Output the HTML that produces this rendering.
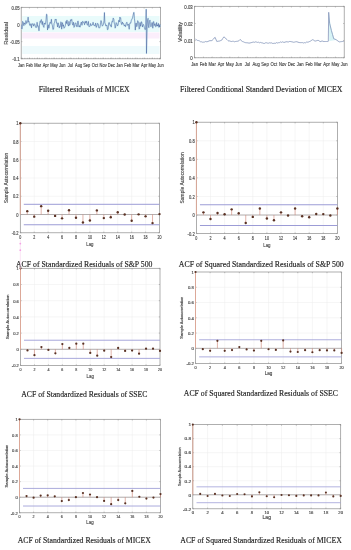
<!DOCTYPE html>
<html><head><meta charset="utf-8"><style>
html,body{margin:0;padding:0;background:#fff;width:351px;height:550px;overflow:hidden}
svg{display:block}
</style></head><body>
<svg width="351" height="550" viewBox="0 0 351 550" style="filter:blur(0.32px)">
<rect width="351" height="550" fill="#fff"/>
<rect x="22.2" y="16" width="137.3" height="16" fill="#e9fbfb"/>
<rect x="22.2" y="32.5" width="137.3" height="6" fill="#fbeefb"/>
<rect x="22.2" y="46" width="137.3" height="8" fill="#eefafc"/>
<rect x="21.20" y="7.30" width="139.30" height="51.50" fill="none" stroke="#8c8c8c" stroke-width="0.7"/>
<line x1="21.20" y1="58.80" x2="21.20" y2="57.60" stroke="#8c8c8c" stroke-width="0.5" />
<line x1="21.20" y1="7.30" x2="21.20" y2="8.50" stroke="#8c8c8c" stroke-width="0.5" />
<text transform="translate(21.20,66.60) scale(0.78,1)" font-size="5.10" text-anchor="middle" fill="#4a4a4a" stroke="#4a4a4a" stroke-width="0.16" font-family='"Liberation Sans", sans-serif' >Jan</text>
<line x1="29.39" y1="58.80" x2="29.39" y2="57.60" stroke="#8c8c8c" stroke-width="0.5" />
<line x1="29.39" y1="7.30" x2="29.39" y2="8.50" stroke="#8c8c8c" stroke-width="0.5" />
<text transform="translate(29.39,66.60) scale(0.78,1)" font-size="5.10" text-anchor="middle" fill="#4a4a4a" stroke="#4a4a4a" stroke-width="0.16" font-family='"Liberation Sans", sans-serif' >Feb</text>
<line x1="37.59" y1="58.80" x2="37.59" y2="57.60" stroke="#8c8c8c" stroke-width="0.5" />
<line x1="37.59" y1="7.30" x2="37.59" y2="8.50" stroke="#8c8c8c" stroke-width="0.5" />
<text transform="translate(37.59,66.60) scale(0.78,1)" font-size="5.10" text-anchor="middle" fill="#4a4a4a" stroke="#4a4a4a" stroke-width="0.16" font-family='"Liberation Sans", sans-serif' >Mar</text>
<line x1="45.78" y1="58.80" x2="45.78" y2="57.60" stroke="#8c8c8c" stroke-width="0.5" />
<line x1="45.78" y1="7.30" x2="45.78" y2="8.50" stroke="#8c8c8c" stroke-width="0.5" />
<text transform="translate(45.78,66.60) scale(0.78,1)" font-size="5.10" text-anchor="middle" fill="#4a4a4a" stroke="#4a4a4a" stroke-width="0.16" font-family='"Liberation Sans", sans-serif' >Apr</text>
<line x1="53.98" y1="58.80" x2="53.98" y2="57.60" stroke="#8c8c8c" stroke-width="0.5" />
<line x1="53.98" y1="7.30" x2="53.98" y2="8.50" stroke="#8c8c8c" stroke-width="0.5" />
<text transform="translate(53.98,66.60) scale(0.78,1)" font-size="5.10" text-anchor="middle" fill="#4a4a4a" stroke="#4a4a4a" stroke-width="0.16" font-family='"Liberation Sans", sans-serif' >May</text>
<line x1="62.17" y1="58.80" x2="62.17" y2="57.60" stroke="#8c8c8c" stroke-width="0.5" />
<line x1="62.17" y1="7.30" x2="62.17" y2="8.50" stroke="#8c8c8c" stroke-width="0.5" />
<text transform="translate(62.17,66.60) scale(0.78,1)" font-size="5.10" text-anchor="middle" fill="#4a4a4a" stroke="#4a4a4a" stroke-width="0.16" font-family='"Liberation Sans", sans-serif' >Jun</text>
<line x1="70.36" y1="58.80" x2="70.36" y2="57.60" stroke="#8c8c8c" stroke-width="0.5" />
<line x1="70.36" y1="7.30" x2="70.36" y2="8.50" stroke="#8c8c8c" stroke-width="0.5" />
<text transform="translate(70.36,66.60) scale(0.78,1)" font-size="5.10" text-anchor="middle" fill="#4a4a4a" stroke="#4a4a4a" stroke-width="0.16" font-family='"Liberation Sans", sans-serif' >Jul</text>
<line x1="78.56" y1="58.80" x2="78.56" y2="57.60" stroke="#8c8c8c" stroke-width="0.5" />
<line x1="78.56" y1="7.30" x2="78.56" y2="8.50" stroke="#8c8c8c" stroke-width="0.5" />
<text transform="translate(78.56,66.60) scale(0.78,1)" font-size="5.10" text-anchor="middle" fill="#4a4a4a" stroke="#4a4a4a" stroke-width="0.16" font-family='"Liberation Sans", sans-serif' >Aug</text>
<line x1="86.75" y1="58.80" x2="86.75" y2="57.60" stroke="#8c8c8c" stroke-width="0.5" />
<line x1="86.75" y1="7.30" x2="86.75" y2="8.50" stroke="#8c8c8c" stroke-width="0.5" />
<text transform="translate(86.75,66.60) scale(0.78,1)" font-size="5.10" text-anchor="middle" fill="#4a4a4a" stroke="#4a4a4a" stroke-width="0.16" font-family='"Liberation Sans", sans-serif' >Sep</text>
<line x1="94.95" y1="58.80" x2="94.95" y2="57.60" stroke="#8c8c8c" stroke-width="0.5" />
<line x1="94.95" y1="7.30" x2="94.95" y2="8.50" stroke="#8c8c8c" stroke-width="0.5" />
<text transform="translate(94.95,66.60) scale(0.78,1)" font-size="5.10" text-anchor="middle" fill="#4a4a4a" stroke="#4a4a4a" stroke-width="0.16" font-family='"Liberation Sans", sans-serif' >Oct</text>
<line x1="103.14" y1="58.80" x2="103.14" y2="57.60" stroke="#8c8c8c" stroke-width="0.5" />
<line x1="103.14" y1="7.30" x2="103.14" y2="8.50" stroke="#8c8c8c" stroke-width="0.5" />
<text transform="translate(103.14,66.60) scale(0.78,1)" font-size="5.10" text-anchor="middle" fill="#4a4a4a" stroke="#4a4a4a" stroke-width="0.16" font-family='"Liberation Sans", sans-serif' >Nov</text>
<line x1="111.34" y1="58.80" x2="111.34" y2="57.60" stroke="#8c8c8c" stroke-width="0.5" />
<line x1="111.34" y1="7.30" x2="111.34" y2="8.50" stroke="#8c8c8c" stroke-width="0.5" />
<text transform="translate(111.34,66.60) scale(0.78,1)" font-size="5.10" text-anchor="middle" fill="#4a4a4a" stroke="#4a4a4a" stroke-width="0.16" font-family='"Liberation Sans", sans-serif' >Dec</text>
<line x1="119.53" y1="58.80" x2="119.53" y2="57.60" stroke="#8c8c8c" stroke-width="0.5" />
<line x1="119.53" y1="7.30" x2="119.53" y2="8.50" stroke="#8c8c8c" stroke-width="0.5" />
<text transform="translate(119.53,66.60) scale(0.78,1)" font-size="5.10" text-anchor="middle" fill="#4a4a4a" stroke="#4a4a4a" stroke-width="0.16" font-family='"Liberation Sans", sans-serif' >Jan</text>
<line x1="127.72" y1="58.80" x2="127.72" y2="57.60" stroke="#8c8c8c" stroke-width="0.5" />
<line x1="127.72" y1="7.30" x2="127.72" y2="8.50" stroke="#8c8c8c" stroke-width="0.5" />
<text transform="translate(127.72,66.60) scale(0.78,1)" font-size="5.10" text-anchor="middle" fill="#4a4a4a" stroke="#4a4a4a" stroke-width="0.16" font-family='"Liberation Sans", sans-serif' >Feb</text>
<line x1="135.92" y1="58.80" x2="135.92" y2="57.60" stroke="#8c8c8c" stroke-width="0.5" />
<line x1="135.92" y1="7.30" x2="135.92" y2="8.50" stroke="#8c8c8c" stroke-width="0.5" />
<text transform="translate(135.92,66.60) scale(0.78,1)" font-size="5.10" text-anchor="middle" fill="#4a4a4a" stroke="#4a4a4a" stroke-width="0.16" font-family='"Liberation Sans", sans-serif' >Mar</text>
<line x1="144.11" y1="58.80" x2="144.11" y2="57.60" stroke="#8c8c8c" stroke-width="0.5" />
<line x1="144.11" y1="7.30" x2="144.11" y2="8.50" stroke="#8c8c8c" stroke-width="0.5" />
<text transform="translate(144.11,66.60) scale(0.78,1)" font-size="5.10" text-anchor="middle" fill="#4a4a4a" stroke="#4a4a4a" stroke-width="0.16" font-family='"Liberation Sans", sans-serif' >Apr</text>
<line x1="152.31" y1="58.80" x2="152.31" y2="57.60" stroke="#8c8c8c" stroke-width="0.5" />
<line x1="152.31" y1="7.30" x2="152.31" y2="8.50" stroke="#8c8c8c" stroke-width="0.5" />
<text transform="translate(152.31,66.60) scale(0.78,1)" font-size="5.10" text-anchor="middle" fill="#4a4a4a" stroke="#4a4a4a" stroke-width="0.16" font-family='"Liberation Sans", sans-serif' >May</text>
<line x1="160.50" y1="58.80" x2="160.50" y2="57.60" stroke="#8c8c8c" stroke-width="0.5" />
<line x1="160.50" y1="7.30" x2="160.50" y2="8.50" stroke="#8c8c8c" stroke-width="0.5" />
<text transform="translate(160.50,66.60) scale(0.78,1)" font-size="5.10" text-anchor="middle" fill="#4a4a4a" stroke="#4a4a4a" stroke-width="0.16" font-family='"Liberation Sans", sans-serif' >Jun</text>
<line x1="21.20" y1="7.30" x2="22.40" y2="7.30" stroke="#8c8c8c" stroke-width="0.5" />
<line x1="160.50" y1="7.30" x2="159.30" y2="7.30" stroke="#8c8c8c" stroke-width="0.5" />
<text transform="translate(19.60,9.60) scale(0.88,1)" font-size="4.80" text-anchor="end" fill="#4a4a4a" stroke="#4a4a4a" stroke-width="0.16" font-family='"Liberation Sans", sans-serif' >0.05</text>
<line x1="21.20" y1="24.47" x2="22.40" y2="24.47" stroke="#8c8c8c" stroke-width="0.5" />
<line x1="160.50" y1="24.47" x2="159.30" y2="24.47" stroke="#8c8c8c" stroke-width="0.5" />
<text transform="translate(19.60,26.77) scale(0.88,1)" font-size="4.80" text-anchor="end" fill="#4a4a4a" stroke="#4a4a4a" stroke-width="0.16" font-family='"Liberation Sans", sans-serif' >0</text>
<line x1="21.20" y1="41.63" x2="22.40" y2="41.63" stroke="#8c8c8c" stroke-width="0.5" />
<line x1="160.50" y1="41.63" x2="159.30" y2="41.63" stroke="#8c8c8c" stroke-width="0.5" />
<text transform="translate(19.60,43.93) scale(0.88,1)" font-size="4.80" text-anchor="end" fill="#4a4a4a" stroke="#4a4a4a" stroke-width="0.16" font-family='"Liberation Sans", sans-serif' >-0.05</text>
<line x1="21.20" y1="58.80" x2="22.40" y2="58.80" stroke="#8c8c8c" stroke-width="0.5" />
<line x1="160.50" y1="58.80" x2="159.30" y2="58.80" stroke="#8c8c8c" stroke-width="0.5" />
<text transform="translate(19.60,61.10) scale(0.88,1)" font-size="4.80" text-anchor="end" fill="#4a4a4a" stroke="#4a4a4a" stroke-width="0.16" font-family='"Liberation Sans", sans-serif' >-0.1</text>
<text transform="translate(7.50,33.40) rotate(-90) scale(1,0.92)" font-size="5.90" text-anchor="middle" fill="#4a4a4a" stroke="#4a4a4a" stroke-width="0.16" font-family='"Liberation Sans", sans-serif' >Residual</text>
<line x1="22.40" y1="58.80" x2="22.40" y2="57.80" stroke="#7a7a7a" stroke-width="0.45" />
<line x1="24.85" y1="58.80" x2="24.85" y2="57.80" stroke="#7a7a7a" stroke-width="0.45" />
<line x1="27.30" y1="58.80" x2="27.30" y2="57.80" stroke="#7a7a7a" stroke-width="0.45" />
<line x1="29.75" y1="58.80" x2="29.75" y2="57.80" stroke="#7a7a7a" stroke-width="0.45" />
<line x1="32.20" y1="58.80" x2="32.20" y2="57.80" stroke="#7a7a7a" stroke-width="0.45" />
<line x1="34.65" y1="58.80" x2="34.65" y2="57.80" stroke="#7a7a7a" stroke-width="0.45" />
<line x1="37.10" y1="58.80" x2="37.10" y2="57.80" stroke="#7a7a7a" stroke-width="0.45" />
<line x1="39.55" y1="58.80" x2="39.55" y2="57.80" stroke="#7a7a7a" stroke-width="0.45" />
<line x1="42.00" y1="58.80" x2="42.00" y2="57.80" stroke="#7a7a7a" stroke-width="0.45" />
<line x1="44.45" y1="58.80" x2="44.45" y2="57.80" stroke="#7a7a7a" stroke-width="0.45" />
<line x1="46.90" y1="58.80" x2="46.90" y2="57.80" stroke="#7a7a7a" stroke-width="0.45" />
<line x1="49.35" y1="58.80" x2="49.35" y2="57.80" stroke="#7a7a7a" stroke-width="0.45" />
<line x1="51.80" y1="58.80" x2="51.80" y2="57.80" stroke="#7a7a7a" stroke-width="0.45" />
<line x1="54.25" y1="58.80" x2="54.25" y2="57.80" stroke="#7a7a7a" stroke-width="0.45" />
<line x1="56.70" y1="58.80" x2="56.70" y2="57.80" stroke="#7a7a7a" stroke-width="0.45" />
<line x1="59.15" y1="58.80" x2="59.15" y2="57.80" stroke="#7a7a7a" stroke-width="0.45" />
<line x1="61.60" y1="58.80" x2="61.60" y2="57.80" stroke="#7a7a7a" stroke-width="0.45" />
<line x1="64.05" y1="58.80" x2="64.05" y2="57.80" stroke="#7a7a7a" stroke-width="0.45" />
<line x1="66.50" y1="58.80" x2="66.50" y2="57.80" stroke="#7a7a7a" stroke-width="0.45" />
<line x1="68.95" y1="58.80" x2="68.95" y2="57.80" stroke="#7a7a7a" stroke-width="0.45" />
<line x1="71.40" y1="58.80" x2="71.40" y2="57.80" stroke="#7a7a7a" stroke-width="0.45" />
<line x1="73.85" y1="58.80" x2="73.85" y2="57.80" stroke="#7a7a7a" stroke-width="0.45" />
<line x1="76.30" y1="58.80" x2="76.30" y2="57.80" stroke="#7a7a7a" stroke-width="0.45" />
<line x1="78.75" y1="58.80" x2="78.75" y2="57.80" stroke="#7a7a7a" stroke-width="0.45" />
<line x1="81.20" y1="58.80" x2="81.20" y2="57.80" stroke="#7a7a7a" stroke-width="0.45" />
<line x1="83.65" y1="58.80" x2="83.65" y2="57.80" stroke="#7a7a7a" stroke-width="0.45" />
<line x1="86.10" y1="58.80" x2="86.10" y2="57.80" stroke="#7a7a7a" stroke-width="0.45" />
<line x1="88.55" y1="58.80" x2="88.55" y2="57.80" stroke="#7a7a7a" stroke-width="0.45" />
<line x1="91.00" y1="58.80" x2="91.00" y2="57.80" stroke="#7a7a7a" stroke-width="0.45" />
<line x1="93.45" y1="58.80" x2="93.45" y2="57.80" stroke="#7a7a7a" stroke-width="0.45" />
<line x1="95.90" y1="58.80" x2="95.90" y2="57.80" stroke="#7a7a7a" stroke-width="0.45" />
<line x1="98.35" y1="58.80" x2="98.35" y2="57.80" stroke="#7a7a7a" stroke-width="0.45" />
<line x1="100.80" y1="58.80" x2="100.80" y2="57.80" stroke="#7a7a7a" stroke-width="0.45" />
<line x1="103.25" y1="58.80" x2="103.25" y2="57.80" stroke="#7a7a7a" stroke-width="0.45" />
<line x1="105.70" y1="58.80" x2="105.70" y2="57.80" stroke="#7a7a7a" stroke-width="0.45" />
<line x1="108.15" y1="58.80" x2="108.15" y2="57.80" stroke="#7a7a7a" stroke-width="0.45" />
<line x1="110.60" y1="58.80" x2="110.60" y2="57.80" stroke="#7a7a7a" stroke-width="0.45" />
<line x1="113.05" y1="58.80" x2="113.05" y2="57.80" stroke="#7a7a7a" stroke-width="0.45" />
<line x1="115.50" y1="58.80" x2="115.50" y2="57.80" stroke="#7a7a7a" stroke-width="0.45" />
<line x1="117.95" y1="58.80" x2="117.95" y2="57.80" stroke="#7a7a7a" stroke-width="0.45" />
<line x1="120.40" y1="58.80" x2="120.40" y2="57.80" stroke="#7a7a7a" stroke-width="0.45" />
<line x1="122.85" y1="58.80" x2="122.85" y2="57.80" stroke="#7a7a7a" stroke-width="0.45" />
<line x1="125.30" y1="58.80" x2="125.30" y2="57.80" stroke="#7a7a7a" stroke-width="0.45" />
<line x1="127.75" y1="58.80" x2="127.75" y2="57.80" stroke="#7a7a7a" stroke-width="0.45" />
<line x1="130.20" y1="58.80" x2="130.20" y2="57.80" stroke="#7a7a7a" stroke-width="0.45" />
<line x1="132.65" y1="58.80" x2="132.65" y2="57.80" stroke="#7a7a7a" stroke-width="0.45" />
<line x1="135.10" y1="58.80" x2="135.10" y2="57.80" stroke="#7a7a7a" stroke-width="0.45" />
<line x1="137.55" y1="58.80" x2="137.55" y2="57.80" stroke="#7a7a7a" stroke-width="0.45" />
<line x1="140.00" y1="58.80" x2="140.00" y2="57.80" stroke="#7a7a7a" stroke-width="0.45" />
<line x1="142.45" y1="58.80" x2="142.45" y2="57.80" stroke="#7a7a7a" stroke-width="0.45" />
<line x1="144.90" y1="58.80" x2="144.90" y2="57.80" stroke="#7a7a7a" stroke-width="0.45" />
<line x1="147.35" y1="58.80" x2="147.35" y2="57.80" stroke="#7a7a7a" stroke-width="0.45" />
<line x1="149.80" y1="58.80" x2="149.80" y2="57.80" stroke="#7a7a7a" stroke-width="0.45" />
<line x1="152.25" y1="58.80" x2="152.25" y2="57.80" stroke="#7a7a7a" stroke-width="0.45" />
<line x1="154.70" y1="58.80" x2="154.70" y2="57.80" stroke="#7a7a7a" stroke-width="0.45" />
<line x1="157.15" y1="58.80" x2="157.15" y2="57.80" stroke="#7a7a7a" stroke-width="0.45" />
<line x1="159.60" y1="58.80" x2="159.60" y2="57.80" stroke="#7a7a7a" stroke-width="0.45" />
<path d="M21.71,24.82 L21.88,29.09 L22.22,26.75 L22.56,21.40 L23.21,22.19 L23.85,25.68 L24.27,22.89 L24.70,23.97 L25.34,24.47 L25.98,20.55 L26.62,23.47 L27.26,22.26 L27.69,21.07 L28.12,17.13 L28.55,22.12 L28.97,21.40 L29.62,25.18 L30.26,25.68 L30.90,23.65 L31.54,27.81 L31.97,23.90 L32.39,23.97 L33.03,23.74 L33.68,26.10 L34.32,23.68 L34.96,24.82 L35.60,27.32 L36.24,26.96 L36.67,27.44 L37.09,22.26 L37.52,26.33 L37.95,25.68 L38.46,26.29 L38.97,30.80 L39.53,24.78 L40.09,21.40 L40.51,22.37 L40.94,20.12 L41.37,19.56 L41.79,23.11 L42.22,24.63 L42.65,21.40 L43.29,26.19 L43.93,27.38 L44.36,23.08 L44.79,23.97 L45.43,24.18 L46.07,19.69 L46.50,14.18 L46.92,14.56 L47.52,29.95 L48.08,25.61 L48.63,24.82 L48.85,28.24 L49.50,23.81 L50.14,22.26 L50.78,23.47 L51.42,19.26 L51.85,24.22 L52.27,24.82 L52.91,29.49 L53.56,29.09 L54.11,23.33 L54.67,22.26 L55.18,19.36 L55.69,20.12 L56.12,19.23 L56.55,23.11 L57.06,22.92 L57.57,26.96 L58.13,22.80 L58.68,24.82 L59.24,27.99 L59.79,26.10 L60.31,26.57 L60.82,21.83 L61.25,22.28 L61.68,29.09 L62.10,24.12 L62.53,22.68 L62.96,26.29 L63.38,24.82 L64.03,28.23 L64.67,27.38 L65.31,25.83 L65.95,21.40 L66.46,23.50 L66.97,20.12 L67.53,24.17 L68.09,24.82 L68.51,26.05 L68.94,21.40 L69.50,25.21 L70.05,24.82 L70.56,19.72 L71.08,20.55 L71.72,19.33 L72.36,23.97 L72.91,25.14 L73.47,22.26 L73.98,27.36 L74.50,26.53 L75.01,23.32 L75.52,23.11 L76.00,23.11 L76.32,26.06 L76.63,25.68 L76.85,26.96 L77.28,26.35 L77.71,21.40 L78.14,20.96 L78.56,23.97 L78.99,26.86 L79.42,25.68 L80.06,27.15 L80.70,23.97 L81.34,22.03 L81.98,25.25 L82.62,21.32 L83.26,22.26 L83.91,22.23 L84.55,24.82 L85.19,21.21 L85.83,23.11 L86.47,21.17 L87.11,24.82 L87.75,25.11 L88.39,21.40 L88.82,26.43 L89.25,26.53 L89.89,26.37 L90.53,23.54 L91.17,25.70 L91.81,24.82 L92.45,24.84 L93.09,22.26 L93.74,25.25 L94.38,25.25 L95.02,26.11 L95.66,23.11 L96.30,27.34 L96.94,25.68 L97.58,23.32 L98.22,23.97 L98.74,27.78 L99.25,27.81 L99.80,27.76 L100.36,24.82 L101.00,20.57 L101.64,22.68 L102.28,26.13 L102.92,25.25 L103.48,24.30 L104.03,20.55 L104.43,12.56 L104.85,22.82 L105.28,23.68 L105.92,26.05 L106.56,24.96 L106.99,25.78 L107.42,29.66 L108.06,29.34 L108.70,22.82 L109.34,22.61 L109.98,25.38 L110.62,24.99 L111.26,27.09 L111.91,21.37 L112.55,21.97 L113.19,18.09 L113.83,19.40 L114.26,23.47 L114.68,23.68 L115.11,28.13 L115.54,27.09 L116.18,22.63 L116.82,23.68 L117.46,25.96 L118.10,24.96 L118.74,20.29 L119.38,21.97 L119.81,17.23 L120.24,18.12 L120.67,17.79 L121.09,22.82 L121.74,24.63 L122.38,21.97 L123.02,24.08 L123.66,23.68 L124.30,26.08 L124.94,24.96 L125.58,26.69 L126.22,23.25 L126.86,22.22 L127.50,25.38 L128.36,24.13 L129.21,29.23 L129.64,24.10 L130.07,22.82 L130.71,23.19 L131.35,20.26 L132.53,18.02 L133.70,12.57 L134.03,12.41 L134.37,18.25 L134.84,22.00 L135.31,30.07 L135.78,23.72 L136.26,22.98 L136.73,26.68 L137.20,25.34 L137.68,20.68 L138.15,21.56 L138.62,23.18 L139.10,29.12 L139.57,28.59 L140.04,22.50 L140.51,26.25 L140.99,24.39 L141.46,21.69 L141.93,22.98 L142.41,27.02 L142.88,24.87 L143.59,24.51 L144.30,27.23 L145.01,29.68 L145.72,29.12 L146.19,9.26 L146.47,53.44 L147.14,26.76 L147.61,19.69 L148.08,18.25 L148.46,25.83 L148.84,27.71 L149.41,21.41 L149.98,20.14 L150.45,25.75 L150.92,26.76 L151.39,25.86 L151.87,22.50 L152.34,22.84 L152.81,28.18 L153.29,21.80 L153.76,21.56 L154.23,25.68 L154.71,23.92 L155.18,23.72 L155.65,26.76 L156.12,26.42 L156.60,22.50 L157.07,26.06 L157.54,24.87 L158.02,26.20 L158.49,23.45 L158.96,27.41 L159.44,25.34 L159.81,26.98 L160.19,24.39" fill="none" stroke="#c8ecf4" stroke-width="1.6" stroke-linejoin="round" opacity="0.6"/>
<path d="M21.71,24.82 L21.88,29.09 L22.22,26.75 L22.56,21.40 L23.21,22.19 L23.85,25.68 L24.27,22.89 L24.70,23.97 L25.34,24.47 L25.98,20.55 L26.62,23.47 L27.26,22.26 L27.69,21.07 L28.12,17.13 L28.55,22.12 L28.97,21.40 L29.62,25.18 L30.26,25.68 L30.90,23.65 L31.54,27.81 L31.97,23.90 L32.39,23.97 L33.03,23.74 L33.68,26.10 L34.32,23.68 L34.96,24.82 L35.60,27.32 L36.24,26.96 L36.67,27.44 L37.09,22.26 L37.52,26.33 L37.95,25.68 L38.46,26.29 L38.97,30.80 L39.53,24.78 L40.09,21.40 L40.51,22.37 L40.94,20.12 L41.37,19.56 L41.79,23.11 L42.22,24.63 L42.65,21.40 L43.29,26.19 L43.93,27.38 L44.36,23.08 L44.79,23.97 L45.43,24.18 L46.07,19.69 L46.50,14.18 L46.92,14.56 L47.52,29.95 L48.08,25.61 L48.63,24.82 L48.85,28.24 L49.50,23.81 L50.14,22.26 L50.78,23.47 L51.42,19.26 L51.85,24.22 L52.27,24.82 L52.91,29.49 L53.56,29.09 L54.11,23.33 L54.67,22.26 L55.18,19.36 L55.69,20.12 L56.12,19.23 L56.55,23.11 L57.06,22.92 L57.57,26.96 L58.13,22.80 L58.68,24.82 L59.24,27.99 L59.79,26.10 L60.31,26.57 L60.82,21.83 L61.25,22.28 L61.68,29.09 L62.10,24.12 L62.53,22.68 L62.96,26.29 L63.38,24.82 L64.03,28.23 L64.67,27.38 L65.31,25.83 L65.95,21.40 L66.46,23.50 L66.97,20.12 L67.53,24.17 L68.09,24.82 L68.51,26.05 L68.94,21.40 L69.50,25.21 L70.05,24.82 L70.56,19.72 L71.08,20.55 L71.72,19.33 L72.36,23.97 L72.91,25.14 L73.47,22.26 L73.98,27.36 L74.50,26.53 L75.01,23.32 L75.52,23.11 L76.00,23.11 L76.32,26.06 L76.63,25.68 L76.85,26.96 L77.28,26.35 L77.71,21.40 L78.14,20.96 L78.56,23.97 L78.99,26.86 L79.42,25.68 L80.06,27.15 L80.70,23.97 L81.34,22.03 L81.98,25.25 L82.62,21.32 L83.26,22.26 L83.91,22.23 L84.55,24.82 L85.19,21.21 L85.83,23.11 L86.47,21.17 L87.11,24.82 L87.75,25.11 L88.39,21.40 L88.82,26.43 L89.25,26.53 L89.89,26.37 L90.53,23.54 L91.17,25.70 L91.81,24.82 L92.45,24.84 L93.09,22.26 L93.74,25.25 L94.38,25.25 L95.02,26.11 L95.66,23.11 L96.30,27.34 L96.94,25.68 L97.58,23.32 L98.22,23.97 L98.74,27.78 L99.25,27.81 L99.80,27.76 L100.36,24.82 L101.00,20.57 L101.64,22.68 L102.28,26.13 L102.92,25.25 L103.48,24.30 L104.03,20.55 L104.43,12.56 L104.85,22.82 L105.28,23.68 L105.92,26.05 L106.56,24.96 L106.99,25.78 L107.42,29.66 L108.06,29.34 L108.70,22.82 L109.34,22.61 L109.98,25.38 L110.62,24.99 L111.26,27.09 L111.91,21.37 L112.55,21.97 L113.19,18.09 L113.83,19.40 L114.26,23.47 L114.68,23.68 L115.11,28.13 L115.54,27.09 L116.18,22.63 L116.82,23.68 L117.46,25.96 L118.10,24.96 L118.74,20.29 L119.38,21.97 L119.81,17.23 L120.24,18.12 L120.67,17.79 L121.09,22.82 L121.74,24.63 L122.38,21.97 L123.02,24.08 L123.66,23.68 L124.30,26.08 L124.94,24.96 L125.58,26.69 L126.22,23.25 L126.86,22.22 L127.50,25.38 L128.36,24.13 L129.21,29.23 L129.64,24.10 L130.07,22.82 L130.71,23.19 L131.35,20.26 L132.53,18.02 L133.70,12.57 L134.03,12.41 L134.37,18.25 L134.84,22.00 L135.31,30.07 L135.78,23.72 L136.26,22.98 L136.73,26.68 L137.20,25.34 L137.68,20.68 L138.15,21.56 L138.62,23.18 L139.10,29.12 L139.57,28.59 L140.04,22.50 L140.51,26.25 L140.99,24.39 L141.46,21.69 L141.93,22.98 L142.41,27.02 L142.88,24.87 L143.59,24.51 L144.30,27.23 L145.01,29.68 L145.72,29.12 L146.19,9.26 L146.47,53.44 L147.14,26.76 L147.61,19.69 L148.08,18.25 L148.46,25.83 L148.84,27.71 L149.41,21.41 L149.98,20.14 L150.45,25.75 L150.92,26.76 L151.39,25.86 L151.87,22.50 L152.34,22.84 L152.81,28.18 L153.29,21.80 L153.76,21.56 L154.23,25.68 L154.71,23.92 L155.18,23.72 L155.65,26.76 L156.12,26.42 L156.60,22.50 L157.07,26.06 L157.54,24.87 L158.02,26.20 L158.49,23.45 L158.96,27.41 L159.44,25.34 L159.81,26.98 L160.19,24.39" fill="none" stroke="#3c5699" stroke-width="0.5" stroke-linejoin="miter"/>
<text x="38.70" y="92.30" font-size="7.2" fill="#1e1e1e" stroke="#1e1e1e" stroke-width="0.14" font-family='"Liberation Serif", serif' textLength="91.00" lengthAdjust="spacingAndGlyphs">Filtered Residuals of MICEX</text>
<rect x="194.60" y="6.30" width="149.60" height="51.50" fill="none" stroke="#8c8c8c" stroke-width="0.7"/>
<line x1="194.60" y1="57.80" x2="194.60" y2="56.60" stroke="#8c8c8c" stroke-width="0.5" />
<line x1="194.60" y1="6.30" x2="194.60" y2="7.50" stroke="#8c8c8c" stroke-width="0.5" />
<text transform="translate(194.60,65.60) scale(0.82,1)" font-size="5.10" text-anchor="middle" fill="#4a4a4a" stroke="#4a4a4a" stroke-width="0.16" font-family='"Liberation Sans", sans-serif' >Jan</text>
<line x1="203.40" y1="57.80" x2="203.40" y2="56.60" stroke="#8c8c8c" stroke-width="0.5" />
<line x1="203.40" y1="6.30" x2="203.40" y2="7.50" stroke="#8c8c8c" stroke-width="0.5" />
<text transform="translate(203.40,65.60) scale(0.82,1)" font-size="5.10" text-anchor="middle" fill="#4a4a4a" stroke="#4a4a4a" stroke-width="0.16" font-family='"Liberation Sans", sans-serif' >Feb</text>
<line x1="212.20" y1="57.80" x2="212.20" y2="56.60" stroke="#8c8c8c" stroke-width="0.5" />
<line x1="212.20" y1="6.30" x2="212.20" y2="7.50" stroke="#8c8c8c" stroke-width="0.5" />
<text transform="translate(212.20,65.60) scale(0.82,1)" font-size="5.10" text-anchor="middle" fill="#4a4a4a" stroke="#4a4a4a" stroke-width="0.16" font-family='"Liberation Sans", sans-serif' >Mar</text>
<line x1="221.00" y1="57.80" x2="221.00" y2="56.60" stroke="#8c8c8c" stroke-width="0.5" />
<line x1="221.00" y1="6.30" x2="221.00" y2="7.50" stroke="#8c8c8c" stroke-width="0.5" />
<text transform="translate(221.00,65.60) scale(0.82,1)" font-size="5.10" text-anchor="middle" fill="#4a4a4a" stroke="#4a4a4a" stroke-width="0.16" font-family='"Liberation Sans", sans-serif' >Apr</text>
<line x1="229.80" y1="57.80" x2="229.80" y2="56.60" stroke="#8c8c8c" stroke-width="0.5" />
<line x1="229.80" y1="6.30" x2="229.80" y2="7.50" stroke="#8c8c8c" stroke-width="0.5" />
<text transform="translate(229.80,65.60) scale(0.82,1)" font-size="5.10" text-anchor="middle" fill="#4a4a4a" stroke="#4a4a4a" stroke-width="0.16" font-family='"Liberation Sans", sans-serif' >May</text>
<line x1="238.60" y1="57.80" x2="238.60" y2="56.60" stroke="#8c8c8c" stroke-width="0.5" />
<line x1="238.60" y1="6.30" x2="238.60" y2="7.50" stroke="#8c8c8c" stroke-width="0.5" />
<text transform="translate(238.60,65.60) scale(0.82,1)" font-size="5.10" text-anchor="middle" fill="#4a4a4a" stroke="#4a4a4a" stroke-width="0.16" font-family='"Liberation Sans", sans-serif' >Jun</text>
<line x1="247.40" y1="57.80" x2="247.40" y2="56.60" stroke="#8c8c8c" stroke-width="0.5" />
<line x1="247.40" y1="6.30" x2="247.40" y2="7.50" stroke="#8c8c8c" stroke-width="0.5" />
<text transform="translate(247.40,65.60) scale(0.82,1)" font-size="5.10" text-anchor="middle" fill="#4a4a4a" stroke="#4a4a4a" stroke-width="0.16" font-family='"Liberation Sans", sans-serif' >Jul</text>
<line x1="256.20" y1="57.80" x2="256.20" y2="56.60" stroke="#8c8c8c" stroke-width="0.5" />
<line x1="256.20" y1="6.30" x2="256.20" y2="7.50" stroke="#8c8c8c" stroke-width="0.5" />
<text transform="translate(256.20,65.60) scale(0.82,1)" font-size="5.10" text-anchor="middle" fill="#4a4a4a" stroke="#4a4a4a" stroke-width="0.16" font-family='"Liberation Sans", sans-serif' >Aug</text>
<line x1="265.00" y1="57.80" x2="265.00" y2="56.60" stroke="#8c8c8c" stroke-width="0.5" />
<line x1="265.00" y1="6.30" x2="265.00" y2="7.50" stroke="#8c8c8c" stroke-width="0.5" />
<text transform="translate(265.00,65.60) scale(0.82,1)" font-size="5.10" text-anchor="middle" fill="#4a4a4a" stroke="#4a4a4a" stroke-width="0.16" font-family='"Liberation Sans", sans-serif' >Sep</text>
<line x1="273.80" y1="57.80" x2="273.80" y2="56.60" stroke="#8c8c8c" stroke-width="0.5" />
<line x1="273.80" y1="6.30" x2="273.80" y2="7.50" stroke="#8c8c8c" stroke-width="0.5" />
<text transform="translate(273.80,65.60) scale(0.82,1)" font-size="5.10" text-anchor="middle" fill="#4a4a4a" stroke="#4a4a4a" stroke-width="0.16" font-family='"Liberation Sans", sans-serif' >Oct</text>
<line x1="282.60" y1="57.80" x2="282.60" y2="56.60" stroke="#8c8c8c" stroke-width="0.5" />
<line x1="282.60" y1="6.30" x2="282.60" y2="7.50" stroke="#8c8c8c" stroke-width="0.5" />
<text transform="translate(282.60,65.60) scale(0.82,1)" font-size="5.10" text-anchor="middle" fill="#4a4a4a" stroke="#4a4a4a" stroke-width="0.16" font-family='"Liberation Sans", sans-serif' >Nov</text>
<line x1="291.40" y1="57.80" x2="291.40" y2="56.60" stroke="#8c8c8c" stroke-width="0.5" />
<line x1="291.40" y1="6.30" x2="291.40" y2="7.50" stroke="#8c8c8c" stroke-width="0.5" />
<text transform="translate(291.40,65.60) scale(0.82,1)" font-size="5.10" text-anchor="middle" fill="#4a4a4a" stroke="#4a4a4a" stroke-width="0.16" font-family='"Liberation Sans", sans-serif' >Dec</text>
<line x1="300.20" y1="57.80" x2="300.20" y2="56.60" stroke="#8c8c8c" stroke-width="0.5" />
<line x1="300.20" y1="6.30" x2="300.20" y2="7.50" stroke="#8c8c8c" stroke-width="0.5" />
<text transform="translate(300.20,65.60) scale(0.82,1)" font-size="5.10" text-anchor="middle" fill="#4a4a4a" stroke="#4a4a4a" stroke-width="0.16" font-family='"Liberation Sans", sans-serif' >Jan</text>
<line x1="309.00" y1="57.80" x2="309.00" y2="56.60" stroke="#8c8c8c" stroke-width="0.5" />
<line x1="309.00" y1="6.30" x2="309.00" y2="7.50" stroke="#8c8c8c" stroke-width="0.5" />
<text transform="translate(309.00,65.60) scale(0.82,1)" font-size="5.10" text-anchor="middle" fill="#4a4a4a" stroke="#4a4a4a" stroke-width="0.16" font-family='"Liberation Sans", sans-serif' >Feb</text>
<line x1="317.80" y1="57.80" x2="317.80" y2="56.60" stroke="#8c8c8c" stroke-width="0.5" />
<line x1="317.80" y1="6.30" x2="317.80" y2="7.50" stroke="#8c8c8c" stroke-width="0.5" />
<text transform="translate(317.80,65.60) scale(0.82,1)" font-size="5.10" text-anchor="middle" fill="#4a4a4a" stroke="#4a4a4a" stroke-width="0.16" font-family='"Liberation Sans", sans-serif' >Mar</text>
<line x1="326.60" y1="57.80" x2="326.60" y2="56.60" stroke="#8c8c8c" stroke-width="0.5" />
<line x1="326.60" y1="6.30" x2="326.60" y2="7.50" stroke="#8c8c8c" stroke-width="0.5" />
<text transform="translate(326.60,65.60) scale(0.82,1)" font-size="5.10" text-anchor="middle" fill="#4a4a4a" stroke="#4a4a4a" stroke-width="0.16" font-family='"Liberation Sans", sans-serif' >Apr</text>
<line x1="335.40" y1="57.80" x2="335.40" y2="56.60" stroke="#8c8c8c" stroke-width="0.5" />
<line x1="335.40" y1="6.30" x2="335.40" y2="7.50" stroke="#8c8c8c" stroke-width="0.5" />
<text transform="translate(335.40,65.60) scale(0.82,1)" font-size="5.10" text-anchor="middle" fill="#4a4a4a" stroke="#4a4a4a" stroke-width="0.16" font-family='"Liberation Sans", sans-serif' >May</text>
<line x1="344.20" y1="57.80" x2="344.20" y2="56.60" stroke="#8c8c8c" stroke-width="0.5" />
<line x1="344.20" y1="6.30" x2="344.20" y2="7.50" stroke="#8c8c8c" stroke-width="0.5" />
<text transform="translate(344.20,65.60) scale(0.82,1)" font-size="5.10" text-anchor="middle" fill="#4a4a4a" stroke="#4a4a4a" stroke-width="0.16" font-family='"Liberation Sans", sans-serif' >Jun</text>
<line x1="194.60" y1="6.30" x2="195.80" y2="6.30" stroke="#8c8c8c" stroke-width="0.5" />
<line x1="344.20" y1="6.30" x2="343.00" y2="6.30" stroke="#8c8c8c" stroke-width="0.5" />
<text transform="translate(192.70,8.80) scale(0.9,1)" font-size="4.80" text-anchor="end" fill="#4a4a4a" stroke="#4a4a4a" stroke-width="0.16" font-family='"Liberation Sans", sans-serif' >0.03</text>
<line x1="194.60" y1="23.47" x2="195.80" y2="23.47" stroke="#8c8c8c" stroke-width="0.5" />
<line x1="344.20" y1="23.47" x2="343.00" y2="23.47" stroke="#8c8c8c" stroke-width="0.5" />
<text transform="translate(192.70,25.97) scale(0.9,1)" font-size="4.80" text-anchor="end" fill="#4a4a4a" stroke="#4a4a4a" stroke-width="0.16" font-family='"Liberation Sans", sans-serif' >0.02</text>
<line x1="194.60" y1="40.63" x2="195.80" y2="40.63" stroke="#8c8c8c" stroke-width="0.5" />
<line x1="344.20" y1="40.63" x2="343.00" y2="40.63" stroke="#8c8c8c" stroke-width="0.5" />
<text transform="translate(192.70,43.13) scale(0.9,1)" font-size="4.80" text-anchor="end" fill="#4a4a4a" stroke="#4a4a4a" stroke-width="0.16" font-family='"Liberation Sans", sans-serif' >0.01</text>
<line x1="194.60" y1="57.80" x2="195.80" y2="57.80" stroke="#8c8c8c" stroke-width="0.5" />
<line x1="344.20" y1="57.80" x2="343.00" y2="57.80" stroke="#8c8c8c" stroke-width="0.5" />
<text transform="translate(192.70,60.30) scale(0.9,1)" font-size="4.80" text-anchor="end" fill="#4a4a4a" stroke="#4a4a4a" stroke-width="0.16" font-family='"Liberation Sans", sans-serif' >0</text>
<text transform="translate(181.60,32.00) rotate(-90) scale(1,0.92)" font-size="5.50" text-anchor="middle" fill="#4a4a4a" stroke="#4a4a4a" stroke-width="0.16" font-family='"Liberation Sans", sans-serif' >Volatility</text>
<line x1="195.80" y1="57.80" x2="195.80" y2="57.00" stroke="#9a9a9a" stroke-width="0.4" />
<line x1="198.40" y1="57.80" x2="198.40" y2="57.00" stroke="#9a9a9a" stroke-width="0.4" />
<line x1="201.00" y1="57.80" x2="201.00" y2="57.00" stroke="#9a9a9a" stroke-width="0.4" />
<line x1="203.60" y1="57.80" x2="203.60" y2="57.00" stroke="#9a9a9a" stroke-width="0.4" />
<line x1="206.20" y1="57.80" x2="206.20" y2="57.00" stroke="#9a9a9a" stroke-width="0.4" />
<line x1="208.80" y1="57.80" x2="208.80" y2="57.00" stroke="#9a9a9a" stroke-width="0.4" />
<line x1="211.40" y1="57.80" x2="211.40" y2="57.00" stroke="#9a9a9a" stroke-width="0.4" />
<line x1="214.00" y1="57.80" x2="214.00" y2="57.00" stroke="#9a9a9a" stroke-width="0.4" />
<line x1="216.60" y1="57.80" x2="216.60" y2="57.00" stroke="#9a9a9a" stroke-width="0.4" />
<line x1="219.20" y1="57.80" x2="219.20" y2="57.00" stroke="#9a9a9a" stroke-width="0.4" />
<line x1="221.80" y1="57.80" x2="221.80" y2="57.00" stroke="#9a9a9a" stroke-width="0.4" />
<line x1="224.40" y1="57.80" x2="224.40" y2="57.00" stroke="#9a9a9a" stroke-width="0.4" />
<line x1="227.00" y1="57.80" x2="227.00" y2="57.00" stroke="#9a9a9a" stroke-width="0.4" />
<line x1="229.60" y1="57.80" x2="229.60" y2="57.00" stroke="#9a9a9a" stroke-width="0.4" />
<line x1="232.20" y1="57.80" x2="232.20" y2="57.00" stroke="#9a9a9a" stroke-width="0.4" />
<line x1="234.80" y1="57.80" x2="234.80" y2="57.00" stroke="#9a9a9a" stroke-width="0.4" />
<line x1="237.40" y1="57.80" x2="237.40" y2="57.00" stroke="#9a9a9a" stroke-width="0.4" />
<line x1="240.00" y1="57.80" x2="240.00" y2="57.00" stroke="#9a9a9a" stroke-width="0.4" />
<line x1="242.60" y1="57.80" x2="242.60" y2="57.00" stroke="#9a9a9a" stroke-width="0.4" />
<line x1="245.20" y1="57.80" x2="245.20" y2="57.00" stroke="#9a9a9a" stroke-width="0.4" />
<line x1="247.80" y1="57.80" x2="247.80" y2="57.00" stroke="#9a9a9a" stroke-width="0.4" />
<line x1="250.40" y1="57.80" x2="250.40" y2="57.00" stroke="#9a9a9a" stroke-width="0.4" />
<line x1="253.00" y1="57.80" x2="253.00" y2="57.00" stroke="#9a9a9a" stroke-width="0.4" />
<line x1="255.60" y1="57.80" x2="255.60" y2="57.00" stroke="#9a9a9a" stroke-width="0.4" />
<line x1="258.20" y1="57.80" x2="258.20" y2="57.00" stroke="#9a9a9a" stroke-width="0.4" />
<line x1="260.80" y1="57.80" x2="260.80" y2="57.00" stroke="#9a9a9a" stroke-width="0.4" />
<line x1="263.40" y1="57.80" x2="263.40" y2="57.00" stroke="#9a9a9a" stroke-width="0.4" />
<line x1="266.00" y1="57.80" x2="266.00" y2="57.00" stroke="#9a9a9a" stroke-width="0.4" />
<line x1="268.60" y1="57.80" x2="268.60" y2="57.00" stroke="#9a9a9a" stroke-width="0.4" />
<line x1="271.20" y1="57.80" x2="271.20" y2="57.00" stroke="#9a9a9a" stroke-width="0.4" />
<line x1="273.80" y1="57.80" x2="273.80" y2="57.00" stroke="#9a9a9a" stroke-width="0.4" />
<line x1="276.40" y1="57.80" x2="276.40" y2="57.00" stroke="#9a9a9a" stroke-width="0.4" />
<line x1="279.00" y1="57.80" x2="279.00" y2="57.00" stroke="#9a9a9a" stroke-width="0.4" />
<line x1="281.60" y1="57.80" x2="281.60" y2="57.00" stroke="#9a9a9a" stroke-width="0.4" />
<line x1="284.20" y1="57.80" x2="284.20" y2="57.00" stroke="#9a9a9a" stroke-width="0.4" />
<line x1="286.80" y1="57.80" x2="286.80" y2="57.00" stroke="#9a9a9a" stroke-width="0.4" />
<line x1="289.40" y1="57.80" x2="289.40" y2="57.00" stroke="#9a9a9a" stroke-width="0.4" />
<line x1="292.00" y1="57.80" x2="292.00" y2="57.00" stroke="#9a9a9a" stroke-width="0.4" />
<line x1="294.60" y1="57.80" x2="294.60" y2="57.00" stroke="#9a9a9a" stroke-width="0.4" />
<line x1="297.20" y1="57.80" x2="297.20" y2="57.00" stroke="#9a9a9a" stroke-width="0.4" />
<line x1="299.80" y1="57.80" x2="299.80" y2="57.00" stroke="#9a9a9a" stroke-width="0.4" />
<line x1="302.40" y1="57.80" x2="302.40" y2="57.00" stroke="#9a9a9a" stroke-width="0.4" />
<line x1="305.00" y1="57.80" x2="305.00" y2="57.00" stroke="#9a9a9a" stroke-width="0.4" />
<line x1="307.60" y1="57.80" x2="307.60" y2="57.00" stroke="#9a9a9a" stroke-width="0.4" />
<line x1="310.20" y1="57.80" x2="310.20" y2="57.00" stroke="#9a9a9a" stroke-width="0.4" />
<line x1="312.80" y1="57.80" x2="312.80" y2="57.00" stroke="#9a9a9a" stroke-width="0.4" />
<line x1="315.40" y1="57.80" x2="315.40" y2="57.00" stroke="#9a9a9a" stroke-width="0.4" />
<line x1="318.00" y1="57.80" x2="318.00" y2="57.00" stroke="#9a9a9a" stroke-width="0.4" />
<line x1="320.60" y1="57.80" x2="320.60" y2="57.00" stroke="#9a9a9a" stroke-width="0.4" />
<line x1="323.20" y1="57.80" x2="323.20" y2="57.00" stroke="#9a9a9a" stroke-width="0.4" />
<line x1="325.80" y1="57.80" x2="325.80" y2="57.00" stroke="#9a9a9a" stroke-width="0.4" />
<line x1="328.40" y1="57.80" x2="328.40" y2="57.00" stroke="#9a9a9a" stroke-width="0.4" />
<line x1="331.00" y1="57.80" x2="331.00" y2="57.00" stroke="#9a9a9a" stroke-width="0.4" />
<line x1="333.60" y1="57.80" x2="333.60" y2="57.00" stroke="#9a9a9a" stroke-width="0.4" />
<line x1="336.20" y1="57.80" x2="336.20" y2="57.00" stroke="#9a9a9a" stroke-width="0.4" />
<line x1="338.80" y1="57.80" x2="338.80" y2="57.00" stroke="#9a9a9a" stroke-width="0.4" />
<line x1="341.40" y1="57.80" x2="341.40" y2="57.00" stroke="#9a9a9a" stroke-width="0.4" />
<polygon points="328.9,14 330.5,24 332,31 334.5,39 336.5,40 329.2,41" fill="#d8f4f6"/>
<path d="M195.40,39.10 L196.37,39.64 L197.33,40.40 L198.30,40.50 L199.35,40.85 L200.40,41.73 L201.45,41.78 L202.50,42.20 L203.57,42.13 L204.65,42.02 L205.73,41.47 L206.80,41.80 L207.88,41.50 L208.95,41.01 L210.03,40.60 L211.10,40.80 L212.15,40.37 L213.20,39.40 L214.15,38.06 L215.10,37.30 L216.80,41.50 L217.85,41.28 L218.90,41.10 L219.87,40.97 L220.83,40.48 L221.80,40.10 L222.85,38.29 L223.90,36.80 L224.95,37.77 L226.00,38.70 L226.97,39.55 L227.93,40.56 L228.90,41.10 L229.83,40.88 L230.77,41.42 L231.70,41.50 L232.60,41.27 L233.50,41.30 L234.40,41.75 L235.30,41.50 L236.27,41.37 L237.23,41.29 L238.20,41.10 L239.25,40.48 L240.30,39.40 L241.35,40.82 L242.40,41.50 L243.50,41.85 L244.60,42.40 L245.70,42.70 L246.77,42.78 L247.85,42.86 L248.93,43.10 L250.00,43.00 L250.93,42.69 L251.87,42.50 L252.80,42.20 L253.77,42.05 L254.73,42.33 L255.70,41.80 L256.63,42.11 L257.57,42.41 L258.50,42.20 L259.57,42.80 L260.65,42.38 L261.73,42.85 L262.80,43.00 L263.75,43.43 L264.70,43.37 L265.65,42.77 L266.60,42.79 L267.55,43.11 L268.50,43.20 L269.45,42.82 L270.40,42.97 L271.35,42.82 L272.30,43.35 L273.25,43.46 L274.20,43.20 L275.27,43.43 L276.35,42.64 L277.43,43.02 L278.50,42.70 L279.55,42.62 L280.60,41.93 L281.65,42.37 L282.70,41.80 L283.85,42.42 L285.00,42.20 L286.05,41.75 L287.10,41.80 L288.20,42.06 L289.30,41.50 L290.23,41.51 L291.17,41.69 L292.10,41.80 L293.30,42.24 L294.50,42.10 L295.70,41.80 L296.87,41.73 L298.03,42.21 L299.20,42.50 L300.27,42.64 L301.35,42.61 L302.43,42.60 L303.50,43.00 L304.57,42.64 L305.65,42.80 L306.73,41.97 L307.80,42.20 L308.73,41.92 L309.67,41.48 L310.60,41.20 L311.70,40.02 L312.80,39.70 L313.85,40.25 L314.90,41.10 L315.87,40.98 L316.83,40.64 L317.80,40.40 L318.85,40.56 L319.90,41.50 L320.95,41.59 L322.00,40.80 L323.10,41.41 L324.20,41.50 L325.37,41.50 L326.53,41.50 L327.70,41.50 L328.30,41.30 L328.70,12.30 L329.60,23.20 L331.40,30.50 L332.55,34.60 L333.70,38.70 L334.85,39.15 L336.00,39.60 L337.07,40.37 L338.13,41.13 L339.20,41.90 L340.23,41.77 L341.27,41.63 L342.30,41.50 L343.80,41.20" fill="none" stroke="#8496ba" stroke-width="0.8" stroke-linejoin="round"/>
<text x="180.10" y="92.30" font-size="7.2" fill="#1e1e1e" stroke="#1e1e1e" stroke-width="0.14" font-family='"Liberation Serif", serif' textLength="162.40" lengthAdjust="spacingAndGlyphs">Filtered Conditional Standard Deviation of MICEX</text>
<line x1="34.22" y1="123.20" x2="34.22" y2="232.80" stroke="#ececec" stroke-width="0.5" />
<line x1="48.14" y1="123.20" x2="48.14" y2="232.80" stroke="#ececec" stroke-width="0.5" />
<line x1="62.06" y1="123.20" x2="62.06" y2="232.80" stroke="#ececec" stroke-width="0.5" />
<line x1="75.98" y1="123.20" x2="75.98" y2="232.80" stroke="#ececec" stroke-width="0.5" />
<line x1="89.90" y1="123.20" x2="89.90" y2="232.80" stroke="#ececec" stroke-width="0.5" />
<line x1="103.82" y1="123.20" x2="103.82" y2="232.80" stroke="#ececec" stroke-width="0.5" />
<line x1="117.74" y1="123.20" x2="117.74" y2="232.80" stroke="#ececec" stroke-width="0.5" />
<line x1="131.66" y1="123.20" x2="131.66" y2="232.80" stroke="#ececec" stroke-width="0.5" />
<line x1="145.58" y1="123.20" x2="145.58" y2="232.80" stroke="#ececec" stroke-width="0.5" />
<line x1="20.30" y1="141.47" x2="159.50" y2="141.47" stroke="#ececec" stroke-width="0.5" />
<line x1="20.30" y1="159.73" x2="159.50" y2="159.73" stroke="#ececec" stroke-width="0.5" />
<line x1="20.30" y1="178.00" x2="159.50" y2="178.00" stroke="#ececec" stroke-width="0.5" />
<line x1="20.30" y1="196.27" x2="159.50" y2="196.27" stroke="#ececec" stroke-width="0.5" />
<line x1="20.30" y1="214.53" x2="159.50" y2="214.53" stroke="#ececec" stroke-width="0.5" />
<rect x="20.30" y="123.20" width="139.20" height="109.60" fill="none" stroke="#8c8c8c" stroke-width="0.7"/>
<line x1="20.30" y1="232.80" x2="20.30" y2="231.60" stroke="#8c8c8c" stroke-width="0.5" />
<line x1="20.30" y1="123.20" x2="20.30" y2="124.40" stroke="#8c8c8c" stroke-width="0.5" />
<text transform="translate(20.30,239.12) scale(0.7429927007299268,1)" font-size="4.88" text-anchor="middle" fill="#4a4a4a" stroke="#4a4a4a" stroke-width="0.16" font-family='"Liberation Sans", sans-serif' >0</text>
<line x1="34.22" y1="232.80" x2="34.22" y2="231.60" stroke="#8c8c8c" stroke-width="0.5" />
<line x1="34.22" y1="123.20" x2="34.22" y2="124.40" stroke="#8c8c8c" stroke-width="0.5" />
<text transform="translate(34.22,239.12) scale(0.7429927007299268,1)" font-size="4.88" text-anchor="middle" fill="#4a4a4a" stroke="#4a4a4a" stroke-width="0.16" font-family='"Liberation Sans", sans-serif' >2</text>
<line x1="48.14" y1="232.80" x2="48.14" y2="231.60" stroke="#8c8c8c" stroke-width="0.5" />
<line x1="48.14" y1="123.20" x2="48.14" y2="124.40" stroke="#8c8c8c" stroke-width="0.5" />
<text transform="translate(48.14,239.12) scale(0.7429927007299268,1)" font-size="4.88" text-anchor="middle" fill="#4a4a4a" stroke="#4a4a4a" stroke-width="0.16" font-family='"Liberation Sans", sans-serif' >4</text>
<line x1="62.06" y1="232.80" x2="62.06" y2="231.60" stroke="#8c8c8c" stroke-width="0.5" />
<line x1="62.06" y1="123.20" x2="62.06" y2="124.40" stroke="#8c8c8c" stroke-width="0.5" />
<text transform="translate(62.06,239.12) scale(0.7429927007299268,1)" font-size="4.88" text-anchor="middle" fill="#4a4a4a" stroke="#4a4a4a" stroke-width="0.16" font-family='"Liberation Sans", sans-serif' >6</text>
<line x1="75.98" y1="232.80" x2="75.98" y2="231.60" stroke="#8c8c8c" stroke-width="0.5" />
<line x1="75.98" y1="123.20" x2="75.98" y2="124.40" stroke="#8c8c8c" stroke-width="0.5" />
<text transform="translate(75.98,239.12) scale(0.7429927007299268,1)" font-size="4.88" text-anchor="middle" fill="#4a4a4a" stroke="#4a4a4a" stroke-width="0.16" font-family='"Liberation Sans", sans-serif' >8</text>
<line x1="89.90" y1="232.80" x2="89.90" y2="231.60" stroke="#8c8c8c" stroke-width="0.5" />
<line x1="89.90" y1="123.20" x2="89.90" y2="124.40" stroke="#8c8c8c" stroke-width="0.5" />
<text transform="translate(89.90,239.12) scale(0.7429927007299268,1)" font-size="4.88" text-anchor="middle" fill="#4a4a4a" stroke="#4a4a4a" stroke-width="0.16" font-family='"Liberation Sans", sans-serif' >10</text>
<line x1="103.82" y1="232.80" x2="103.82" y2="231.60" stroke="#8c8c8c" stroke-width="0.5" />
<line x1="103.82" y1="123.20" x2="103.82" y2="124.40" stroke="#8c8c8c" stroke-width="0.5" />
<text transform="translate(103.82,239.12) scale(0.7429927007299268,1)" font-size="4.88" text-anchor="middle" fill="#4a4a4a" stroke="#4a4a4a" stroke-width="0.16" font-family='"Liberation Sans", sans-serif' >12</text>
<line x1="117.74" y1="232.80" x2="117.74" y2="231.60" stroke="#8c8c8c" stroke-width="0.5" />
<line x1="117.74" y1="123.20" x2="117.74" y2="124.40" stroke="#8c8c8c" stroke-width="0.5" />
<text transform="translate(117.74,239.12) scale(0.7429927007299268,1)" font-size="4.88" text-anchor="middle" fill="#4a4a4a" stroke="#4a4a4a" stroke-width="0.16" font-family='"Liberation Sans", sans-serif' >14</text>
<line x1="131.66" y1="232.80" x2="131.66" y2="231.60" stroke="#8c8c8c" stroke-width="0.5" />
<line x1="131.66" y1="123.20" x2="131.66" y2="124.40" stroke="#8c8c8c" stroke-width="0.5" />
<text transform="translate(131.66,239.12) scale(0.7429927007299268,1)" font-size="4.88" text-anchor="middle" fill="#4a4a4a" stroke="#4a4a4a" stroke-width="0.16" font-family='"Liberation Sans", sans-serif' >16</text>
<line x1="145.58" y1="232.80" x2="145.58" y2="231.60" stroke="#8c8c8c" stroke-width="0.5" />
<line x1="145.58" y1="123.20" x2="145.58" y2="124.40" stroke="#8c8c8c" stroke-width="0.5" />
<text transform="translate(145.58,239.12) scale(0.7429927007299268,1)" font-size="4.88" text-anchor="middle" fill="#4a4a4a" stroke="#4a4a4a" stroke-width="0.16" font-family='"Liberation Sans", sans-serif' >18</text>
<line x1="159.50" y1="232.80" x2="159.50" y2="231.60" stroke="#8c8c8c" stroke-width="0.5" />
<line x1="159.50" y1="123.20" x2="159.50" y2="124.40" stroke="#8c8c8c" stroke-width="0.5" />
<text transform="translate(159.50,239.12) scale(0.7429927007299268,1)" font-size="4.88" text-anchor="middle" fill="#4a4a4a" stroke="#4a4a4a" stroke-width="0.16" font-family='"Liberation Sans", sans-serif' >20</text>
<line x1="20.30" y1="123.20" x2="21.50" y2="123.20" stroke="#8c8c8c" stroke-width="0.5" />
<line x1="159.50" y1="123.20" x2="158.30" y2="123.20" stroke="#8c8c8c" stroke-width="0.5" />
<text transform="translate(18.60,125.26) scale(0.8321518248175181,1)" font-size="4.88" text-anchor="end" fill="#4a4a4a" stroke="#4a4a4a" stroke-width="0.16" font-family='"Liberation Sans", sans-serif' >1</text>
<line x1="20.30" y1="141.47" x2="21.50" y2="141.47" stroke="#8c8c8c" stroke-width="0.5" />
<line x1="159.50" y1="141.47" x2="158.30" y2="141.47" stroke="#8c8c8c" stroke-width="0.5" />
<text transform="translate(18.60,143.52) scale(0.8321518248175181,1)" font-size="4.88" text-anchor="end" fill="#4a4a4a" stroke="#4a4a4a" stroke-width="0.16" font-family='"Liberation Sans", sans-serif' >0.8</text>
<line x1="20.30" y1="159.73" x2="21.50" y2="159.73" stroke="#8c8c8c" stroke-width="0.5" />
<line x1="159.50" y1="159.73" x2="158.30" y2="159.73" stroke="#8c8c8c" stroke-width="0.5" />
<text transform="translate(18.60,161.79) scale(0.8321518248175181,1)" font-size="4.88" text-anchor="end" fill="#4a4a4a" stroke="#4a4a4a" stroke-width="0.16" font-family='"Liberation Sans", sans-serif' >0.6</text>
<line x1="20.30" y1="178.00" x2="21.50" y2="178.00" stroke="#8c8c8c" stroke-width="0.5" />
<line x1="159.50" y1="178.00" x2="158.30" y2="178.00" stroke="#8c8c8c" stroke-width="0.5" />
<text transform="translate(18.60,180.06) scale(0.8321518248175181,1)" font-size="4.88" text-anchor="end" fill="#4a4a4a" stroke="#4a4a4a" stroke-width="0.16" font-family='"Liberation Sans", sans-serif' >0.4</text>
<line x1="20.30" y1="196.27" x2="21.50" y2="196.27" stroke="#8c8c8c" stroke-width="0.5" />
<line x1="159.50" y1="196.27" x2="158.30" y2="196.27" stroke="#8c8c8c" stroke-width="0.5" />
<text transform="translate(18.60,198.32) scale(0.8321518248175181,1)" font-size="4.88" text-anchor="end" fill="#4a4a4a" stroke="#4a4a4a" stroke-width="0.16" font-family='"Liberation Sans", sans-serif' >0.2</text>
<line x1="20.30" y1="214.53" x2="21.50" y2="214.53" stroke="#8c8c8c" stroke-width="0.5" />
<line x1="159.50" y1="214.53" x2="158.30" y2="214.53" stroke="#8c8c8c" stroke-width="0.5" />
<text transform="translate(18.60,216.59) scale(0.8321518248175181,1)" font-size="4.88" text-anchor="end" fill="#4a4a4a" stroke="#4a4a4a" stroke-width="0.16" font-family='"Liberation Sans", sans-serif' >0</text>
<line x1="20.30" y1="232.80" x2="21.50" y2="232.80" stroke="#8c8c8c" stroke-width="0.5" />
<line x1="159.50" y1="232.80" x2="158.30" y2="232.80" stroke="#8c8c8c" stroke-width="0.5" />
<text transform="translate(18.60,234.86) scale(0.8321518248175181,1)" font-size="4.88" text-anchor="end" fill="#4a4a4a" stroke="#4a4a4a" stroke-width="0.16" font-family='"Liberation Sans", sans-serif' >-0.2</text>
<text transform="translate(7.80,178.00) rotate(-90) scale(1,0.95)" font-size="4.88" text-anchor="middle" fill="#4a4a4a" stroke="#4a4a4a" stroke-width="0.16" font-family='"Liberation Sans", sans-serif' >Sample Autocorrelation</text>
<text transform="translate(89.90,246.22) scale(0.7429927007299268,1)" font-size="5.86" text-anchor="middle" fill="#4a4a4a" stroke="#4a4a4a" stroke-width="0.16" font-family='"Liberation Sans", sans-serif' >Lag</text>
<line x1="23.78" y1="204.30" x2="159.50" y2="204.30" stroke="#9c9cd6" stroke-width="0.9963636363636365" />
<line x1="23.78" y1="224.76" x2="159.50" y2="224.76" stroke="#9c9cd6" stroke-width="0.9963636363636365" />
<line x1="20.30" y1="214.53" x2="159.50" y2="214.53" stroke="#a29c9c" stroke-width="0.8" />
<line x1="20.30" y1="214.53" x2="20.30" y2="123.20" stroke="#dca898" stroke-width="1.0" />
<line x1="27.26" y1="214.53" x2="27.26" y2="211.15" stroke="#cc8070" stroke-width="0.6" />
<line x1="34.22" y1="214.53" x2="34.22" y2="216.63" stroke="#cc8070" stroke-width="0.6" />
<line x1="41.18" y1="214.53" x2="41.18" y2="206.13" stroke="#cc8070" stroke-width="0.6" />
<line x1="48.14" y1="214.53" x2="48.14" y2="210.79" stroke="#cc8070" stroke-width="0.6" />
<line x1="55.10" y1="214.53" x2="55.10" y2="215.90" stroke="#cc8070" stroke-width="0.6" />
<line x1="62.06" y1="214.53" x2="62.06" y2="218.37" stroke="#cc8070" stroke-width="0.6" />
<line x1="69.02" y1="214.53" x2="69.02" y2="210.24" stroke="#cc8070" stroke-width="0.6" />
<line x1="75.98" y1="214.53" x2="75.98" y2="217.73" stroke="#cc8070" stroke-width="0.6" />
<line x1="82.94" y1="214.53" x2="82.94" y2="222.48" stroke="#cc8070" stroke-width="0.6" />
<line x1="89.90" y1="214.53" x2="89.90" y2="220.47" stroke="#cc8070" stroke-width="0.6" />
<line x1="96.86" y1="214.53" x2="96.86" y2="210.42" stroke="#cc8070" stroke-width="0.6" />
<line x1="103.82" y1="214.53" x2="103.82" y2="218.10" stroke="#cc8070" stroke-width="0.6" />
<line x1="110.78" y1="214.53" x2="110.78" y2="217.27" stroke="#cc8070" stroke-width="0.6" />
<line x1="117.74" y1="214.53" x2="117.74" y2="212.25" stroke="#cc8070" stroke-width="0.6" />
<line x1="124.70" y1="214.53" x2="124.70" y2="214.53" stroke="#cc8070" stroke-width="0.6" />
<line x1="131.66" y1="214.53" x2="131.66" y2="220.74" stroke="#cc8070" stroke-width="0.6" />
<line x1="138.62" y1="214.53" x2="138.62" y2="214.35" stroke="#cc8070" stroke-width="0.6" />
<line x1="145.58" y1="214.53" x2="145.58" y2="216.36" stroke="#cc8070" stroke-width="0.6" />
<line x1="152.54" y1="214.53" x2="152.54" y2="223.12" stroke="#cc8070" stroke-width="0.6" />
<line x1="159.50" y1="214.53" x2="159.50" y2="214.08" stroke="#cc8070" stroke-width="0.6" />
<circle cx="20.30" cy="123.20" r="1.20" fill="#5a3224"/>
<circle cx="27.26" cy="211.15" r="1.20" fill="#5a3224"/>
<circle cx="34.22" cy="216.63" r="1.20" fill="#5a3224"/>
<circle cx="41.18" cy="206.13" r="1.20" fill="#5a3224"/>
<circle cx="48.14" cy="210.79" r="1.20" fill="#5a3224"/>
<circle cx="55.10" cy="215.90" r="1.20" fill="#5a3224"/>
<circle cx="62.06" cy="218.37" r="1.20" fill="#5a3224"/>
<circle cx="69.02" cy="210.24" r="1.20" fill="#5a3224"/>
<circle cx="75.98" cy="217.73" r="1.20" fill="#5a3224"/>
<circle cx="82.94" cy="222.48" r="1.20" fill="#5a3224"/>
<circle cx="89.90" cy="220.47" r="1.20" fill="#5a3224"/>
<circle cx="96.86" cy="210.42" r="1.20" fill="#5a3224"/>
<circle cx="103.82" cy="218.10" r="1.20" fill="#5a3224"/>
<circle cx="110.78" cy="217.27" r="1.20" fill="#5a3224"/>
<circle cx="117.74" cy="212.25" r="1.20" fill="#5a3224"/>
<circle cx="124.70" cy="214.53" r="1.20" fill="#5a3224"/>
<circle cx="131.66" cy="220.74" r="1.20" fill="#5a3224"/>
<circle cx="138.62" cy="214.35" r="1.20" fill="#5a3224"/>
<circle cx="145.58" cy="216.36" r="1.20" fill="#5a3224"/>
<circle cx="152.54" cy="223.12" r="1.20" fill="#5a3224"/>
<circle cx="159.50" cy="214.08" r="1.20" fill="#5a3224"/>
<text x="16.00" y="266.70" font-size="7.2" fill="#1e1e1e" stroke="#1e1e1e" stroke-width="0.14" font-family='"Liberation Serif", serif' textLength="136.50" lengthAdjust="spacingAndGlyphs">ACF of Standardized Residuals of S&amp;P 500</text>
<line x1="210.50" y1="122.20" x2="210.50" y2="233.60" stroke="#ececec" stroke-width="0.5" />
<line x1="224.60" y1="122.20" x2="224.60" y2="233.60" stroke="#ececec" stroke-width="0.5" />
<line x1="238.70" y1="122.20" x2="238.70" y2="233.60" stroke="#ececec" stroke-width="0.5" />
<line x1="252.80" y1="122.20" x2="252.80" y2="233.60" stroke="#ececec" stroke-width="0.5" />
<line x1="266.90" y1="122.20" x2="266.90" y2="233.60" stroke="#ececec" stroke-width="0.5" />
<line x1="281.00" y1="122.20" x2="281.00" y2="233.60" stroke="#ececec" stroke-width="0.5" />
<line x1="295.10" y1="122.20" x2="295.10" y2="233.60" stroke="#ececec" stroke-width="0.5" />
<line x1="309.20" y1="122.20" x2="309.20" y2="233.60" stroke="#ececec" stroke-width="0.5" />
<line x1="323.30" y1="122.20" x2="323.30" y2="233.60" stroke="#ececec" stroke-width="0.5" />
<line x1="196.40" y1="140.77" x2="337.40" y2="140.77" stroke="#ececec" stroke-width="0.5" />
<line x1="196.40" y1="159.33" x2="337.40" y2="159.33" stroke="#ececec" stroke-width="0.5" />
<line x1="196.40" y1="177.90" x2="337.40" y2="177.90" stroke="#ececec" stroke-width="0.5" />
<line x1="196.40" y1="196.47" x2="337.40" y2="196.47" stroke="#ececec" stroke-width="0.5" />
<line x1="196.40" y1="215.03" x2="337.40" y2="215.03" stroke="#ececec" stroke-width="0.5" />
<rect x="196.40" y="122.20" width="141.00" height="111.40" fill="none" stroke="#8c8c8c" stroke-width="0.7"/>
<line x1="196.40" y1="233.60" x2="196.40" y2="232.40" stroke="#8c8c8c" stroke-width="0.5" />
<line x1="196.40" y1="122.20" x2="196.40" y2="123.40" stroke="#8c8c8c" stroke-width="0.5" />
<text transform="translate(196.40,240.02) scale(0.740439856373429,1)" font-size="4.96" text-anchor="middle" fill="#4a4a4a" stroke="#4a4a4a" stroke-width="0.16" font-family='"Liberation Sans", sans-serif' >0</text>
<line x1="210.50" y1="233.60" x2="210.50" y2="232.40" stroke="#8c8c8c" stroke-width="0.5" />
<line x1="210.50" y1="122.20" x2="210.50" y2="123.40" stroke="#8c8c8c" stroke-width="0.5" />
<text transform="translate(210.50,240.02) scale(0.740439856373429,1)" font-size="4.96" text-anchor="middle" fill="#4a4a4a" stroke="#4a4a4a" stroke-width="0.16" font-family='"Liberation Sans", sans-serif' >2</text>
<line x1="224.60" y1="233.60" x2="224.60" y2="232.40" stroke="#8c8c8c" stroke-width="0.5" />
<line x1="224.60" y1="122.20" x2="224.60" y2="123.40" stroke="#8c8c8c" stroke-width="0.5" />
<text transform="translate(224.60,240.02) scale(0.740439856373429,1)" font-size="4.96" text-anchor="middle" fill="#4a4a4a" stroke="#4a4a4a" stroke-width="0.16" font-family='"Liberation Sans", sans-serif' >4</text>
<line x1="238.70" y1="233.60" x2="238.70" y2="232.40" stroke="#8c8c8c" stroke-width="0.5" />
<line x1="238.70" y1="122.20" x2="238.70" y2="123.40" stroke="#8c8c8c" stroke-width="0.5" />
<text transform="translate(238.70,240.02) scale(0.740439856373429,1)" font-size="4.96" text-anchor="middle" fill="#4a4a4a" stroke="#4a4a4a" stroke-width="0.16" font-family='"Liberation Sans", sans-serif' >6</text>
<line x1="252.80" y1="233.60" x2="252.80" y2="232.40" stroke="#8c8c8c" stroke-width="0.5" />
<line x1="252.80" y1="122.20" x2="252.80" y2="123.40" stroke="#8c8c8c" stroke-width="0.5" />
<text transform="translate(252.80,240.02) scale(0.740439856373429,1)" font-size="4.96" text-anchor="middle" fill="#4a4a4a" stroke="#4a4a4a" stroke-width="0.16" font-family='"Liberation Sans", sans-serif' >8</text>
<line x1="266.90" y1="233.60" x2="266.90" y2="232.40" stroke="#8c8c8c" stroke-width="0.5" />
<line x1="266.90" y1="122.20" x2="266.90" y2="123.40" stroke="#8c8c8c" stroke-width="0.5" />
<text transform="translate(266.90,240.02) scale(0.740439856373429,1)" font-size="4.96" text-anchor="middle" fill="#4a4a4a" stroke="#4a4a4a" stroke-width="0.16" font-family='"Liberation Sans", sans-serif' >10</text>
<line x1="281.00" y1="233.60" x2="281.00" y2="232.40" stroke="#8c8c8c" stroke-width="0.5" />
<line x1="281.00" y1="122.20" x2="281.00" y2="123.40" stroke="#8c8c8c" stroke-width="0.5" />
<text transform="translate(281.00,240.02) scale(0.740439856373429,1)" font-size="4.96" text-anchor="middle" fill="#4a4a4a" stroke="#4a4a4a" stroke-width="0.16" font-family='"Liberation Sans", sans-serif' >12</text>
<line x1="295.10" y1="233.60" x2="295.10" y2="232.40" stroke="#8c8c8c" stroke-width="0.5" />
<line x1="295.10" y1="122.20" x2="295.10" y2="123.40" stroke="#8c8c8c" stroke-width="0.5" />
<text transform="translate(295.10,240.02) scale(0.740439856373429,1)" font-size="4.96" text-anchor="middle" fill="#4a4a4a" stroke="#4a4a4a" stroke-width="0.16" font-family='"Liberation Sans", sans-serif' >14</text>
<line x1="309.20" y1="233.60" x2="309.20" y2="232.40" stroke="#8c8c8c" stroke-width="0.5" />
<line x1="309.20" y1="122.20" x2="309.20" y2="123.40" stroke="#8c8c8c" stroke-width="0.5" />
<text transform="translate(309.20,240.02) scale(0.740439856373429,1)" font-size="4.96" text-anchor="middle" fill="#4a4a4a" stroke="#4a4a4a" stroke-width="0.16" font-family='"Liberation Sans", sans-serif' >16</text>
<line x1="323.30" y1="233.60" x2="323.30" y2="232.40" stroke="#8c8c8c" stroke-width="0.5" />
<line x1="323.30" y1="122.20" x2="323.30" y2="123.40" stroke="#8c8c8c" stroke-width="0.5" />
<text transform="translate(323.30,240.02) scale(0.740439856373429,1)" font-size="4.96" text-anchor="middle" fill="#4a4a4a" stroke="#4a4a4a" stroke-width="0.16" font-family='"Liberation Sans", sans-serif' >18</text>
<line x1="337.40" y1="233.60" x2="337.40" y2="232.40" stroke="#8c8c8c" stroke-width="0.5" />
<line x1="337.40" y1="122.20" x2="337.40" y2="123.40" stroke="#8c8c8c" stroke-width="0.5" />
<text transform="translate(337.40,240.02) scale(0.740439856373429,1)" font-size="4.96" text-anchor="middle" fill="#4a4a4a" stroke="#4a4a4a" stroke-width="0.16" font-family='"Liberation Sans", sans-serif' >20</text>
<line x1="196.40" y1="122.20" x2="197.60" y2="122.20" stroke="#8c8c8c" stroke-width="0.5" />
<line x1="337.40" y1="122.20" x2="336.20" y2="122.20" stroke="#8c8c8c" stroke-width="0.5" />
<text transform="translate(194.70,124.29) scale(0.8292926391382406,1)" font-size="4.96" text-anchor="end" fill="#4a4a4a" stroke="#4a4a4a" stroke-width="0.16" font-family='"Liberation Sans", sans-serif' >1</text>
<line x1="196.40" y1="140.77" x2="197.60" y2="140.77" stroke="#8c8c8c" stroke-width="0.5" />
<line x1="337.40" y1="140.77" x2="336.20" y2="140.77" stroke="#8c8c8c" stroke-width="0.5" />
<text transform="translate(194.70,142.85) scale(0.8292926391382406,1)" font-size="4.96" text-anchor="end" fill="#4a4a4a" stroke="#4a4a4a" stroke-width="0.16" font-family='"Liberation Sans", sans-serif' >0.8</text>
<line x1="196.40" y1="159.33" x2="197.60" y2="159.33" stroke="#8c8c8c" stroke-width="0.5" />
<line x1="337.40" y1="159.33" x2="336.20" y2="159.33" stroke="#8c8c8c" stroke-width="0.5" />
<text transform="translate(194.70,161.42) scale(0.8292926391382406,1)" font-size="4.96" text-anchor="end" fill="#4a4a4a" stroke="#4a4a4a" stroke-width="0.16" font-family='"Liberation Sans", sans-serif' >0.6</text>
<line x1="196.40" y1="177.90" x2="197.60" y2="177.90" stroke="#8c8c8c" stroke-width="0.5" />
<line x1="337.40" y1="177.90" x2="336.20" y2="177.90" stroke="#8c8c8c" stroke-width="0.5" />
<text transform="translate(194.70,179.99) scale(0.8292926391382406,1)" font-size="4.96" text-anchor="end" fill="#4a4a4a" stroke="#4a4a4a" stroke-width="0.16" font-family='"Liberation Sans", sans-serif' >0.4</text>
<line x1="196.40" y1="196.47" x2="197.60" y2="196.47" stroke="#8c8c8c" stroke-width="0.5" />
<line x1="337.40" y1="196.47" x2="336.20" y2="196.47" stroke="#8c8c8c" stroke-width="0.5" />
<text transform="translate(194.70,198.55) scale(0.8292926391382406,1)" font-size="4.96" text-anchor="end" fill="#4a4a4a" stroke="#4a4a4a" stroke-width="0.16" font-family='"Liberation Sans", sans-serif' >0.2</text>
<line x1="196.40" y1="215.03" x2="197.60" y2="215.03" stroke="#8c8c8c" stroke-width="0.5" />
<line x1="337.40" y1="215.03" x2="336.20" y2="215.03" stroke="#8c8c8c" stroke-width="0.5" />
<text transform="translate(194.70,217.12) scale(0.8292926391382406,1)" font-size="4.96" text-anchor="end" fill="#4a4a4a" stroke="#4a4a4a" stroke-width="0.16" font-family='"Liberation Sans", sans-serif' >0</text>
<line x1="196.40" y1="233.60" x2="197.60" y2="233.60" stroke="#8c8c8c" stroke-width="0.5" />
<line x1="337.40" y1="233.60" x2="336.20" y2="233.60" stroke="#8c8c8c" stroke-width="0.5" />
<text transform="translate(194.70,235.69) scale(0.8292926391382406,1)" font-size="4.96" text-anchor="end" fill="#4a4a4a" stroke="#4a4a4a" stroke-width="0.16" font-family='"Liberation Sans", sans-serif' >-0.2</text>
<text transform="translate(183.60,177.90) rotate(-90) scale(1,0.95)" font-size="4.96" text-anchor="middle" fill="#4a4a4a" stroke="#4a4a4a" stroke-width="0.16" font-family='"Liberation Sans", sans-serif' >Sample Autocorrelation</text>
<text transform="translate(266.90,247.23) scale(0.740439856373429,1)" font-size="5.95" text-anchor="middle" fill="#4a4a4a" stroke="#4a4a4a" stroke-width="0.16" font-family='"Liberation Sans", sans-serif' >Lag</text>
<line x1="199.93" y1="204.64" x2="337.40" y2="204.64" stroke="#9c9cd6" stroke-width="1.0127272727272727" />
<line x1="199.93" y1="225.43" x2="337.40" y2="225.43" stroke="#9c9cd6" stroke-width="1.0127272727272727" />
<line x1="196.40" y1="215.03" x2="337.40" y2="215.03" stroke="#a29c9c" stroke-width="0.8" />
<line x1="196.40" y1="215.03" x2="196.40" y2="122.20" stroke="#dca898" stroke-width="1.0" />
<line x1="203.45" y1="215.03" x2="203.45" y2="212.34" stroke="#cc8070" stroke-width="0.6" />
<line x1="210.50" y1="215.03" x2="210.50" y2="218.93" stroke="#cc8070" stroke-width="0.6" />
<line x1="217.55" y1="215.03" x2="217.55" y2="212.99" stroke="#cc8070" stroke-width="0.6" />
<line x1="224.60" y1="215.03" x2="224.60" y2="214.29" stroke="#cc8070" stroke-width="0.6" />
<line x1="231.65" y1="215.03" x2="231.65" y2="209.37" stroke="#cc8070" stroke-width="0.6" />
<line x1="238.70" y1="215.03" x2="238.70" y2="213.18" stroke="#cc8070" stroke-width="0.6" />
<line x1="245.75" y1="215.03" x2="245.75" y2="223.02" stroke="#cc8070" stroke-width="0.6" />
<line x1="252.80" y1="215.03" x2="252.80" y2="216.89" stroke="#cc8070" stroke-width="0.6" />
<line x1="259.85" y1="215.03" x2="259.85" y2="208.44" stroke="#cc8070" stroke-width="0.6" />
<line x1="266.90" y1="215.03" x2="266.90" y2="218.56" stroke="#cc8070" stroke-width="0.6" />
<line x1="273.95" y1="215.03" x2="273.95" y2="220.23" stroke="#cc8070" stroke-width="0.6" />
<line x1="281.00" y1="215.03" x2="281.00" y2="212.34" stroke="#cc8070" stroke-width="0.6" />
<line x1="288.05" y1="215.03" x2="288.05" y2="215.50" stroke="#cc8070" stroke-width="0.6" />
<line x1="295.10" y1="215.03" x2="295.10" y2="208.44" stroke="#cc8070" stroke-width="0.6" />
<line x1="302.15" y1="215.03" x2="302.15" y2="216.24" stroke="#cc8070" stroke-width="0.6" />
<line x1="309.20" y1="215.03" x2="309.20" y2="217.17" stroke="#cc8070" stroke-width="0.6" />
<line x1="316.25" y1="215.03" x2="316.25" y2="213.92" stroke="#cc8070" stroke-width="0.6" />
<line x1="323.30" y1="215.03" x2="323.30" y2="214.10" stroke="#cc8070" stroke-width="0.6" />
<line x1="330.35" y1="215.03" x2="330.35" y2="215.50" stroke="#cc8070" stroke-width="0.6" />
<line x1="337.40" y1="215.03" x2="337.40" y2="208.44" stroke="#cc8070" stroke-width="0.6" />
<circle cx="196.40" cy="122.20" r="1.21" fill="#5a3224"/>
<circle cx="203.45" cy="212.34" r="1.21" fill="#5a3224"/>
<circle cx="210.50" cy="218.93" r="1.21" fill="#5a3224"/>
<circle cx="217.55" cy="212.99" r="1.21" fill="#5a3224"/>
<circle cx="224.60" cy="214.29" r="1.21" fill="#5a3224"/>
<circle cx="231.65" cy="209.37" r="1.21" fill="#5a3224"/>
<circle cx="238.70" cy="213.18" r="1.21" fill="#5a3224"/>
<circle cx="245.75" cy="223.02" r="1.21" fill="#5a3224"/>
<circle cx="252.80" cy="216.89" r="1.21" fill="#5a3224"/>
<circle cx="259.85" cy="208.44" r="1.21" fill="#5a3224"/>
<circle cx="266.90" cy="218.56" r="1.21" fill="#5a3224"/>
<circle cx="273.95" cy="220.23" r="1.21" fill="#5a3224"/>
<circle cx="281.00" cy="212.34" r="1.21" fill="#5a3224"/>
<circle cx="288.05" cy="215.50" r="1.21" fill="#5a3224"/>
<circle cx="295.10" cy="208.44" r="1.21" fill="#5a3224"/>
<circle cx="302.15" cy="216.24" r="1.21" fill="#5a3224"/>
<circle cx="309.20" cy="217.17" r="1.21" fill="#5a3224"/>
<circle cx="316.25" cy="213.92" r="1.21" fill="#5a3224"/>
<circle cx="323.30" cy="214.10" r="1.21" fill="#5a3224"/>
<circle cx="330.35" cy="215.50" r="1.21" fill="#5a3224"/>
<circle cx="337.40" cy="208.44" r="1.21" fill="#5a3224"/>
<text x="178.80" y="266.80" font-size="7.2" fill="#1e1e1e" stroke="#1e1e1e" stroke-width="0.14" font-family='"Liberation Serif", serif' textLength="165.00" lengthAdjust="spacingAndGlyphs">ACF of Squared Standardized Residuals of S&amp;P 500</text>
<line x1="34.45" y1="268.30" x2="34.45" y2="365.50" stroke="#ececec" stroke-width="0.5" />
<line x1="48.40" y1="268.30" x2="48.40" y2="365.50" stroke="#ececec" stroke-width="0.5" />
<line x1="62.35" y1="268.30" x2="62.35" y2="365.50" stroke="#ececec" stroke-width="0.5" />
<line x1="76.30" y1="268.30" x2="76.30" y2="365.50" stroke="#ececec" stroke-width="0.5" />
<line x1="90.25" y1="268.30" x2="90.25" y2="365.50" stroke="#ececec" stroke-width="0.5" />
<line x1="104.20" y1="268.30" x2="104.20" y2="365.50" stroke="#ececec" stroke-width="0.5" />
<line x1="118.15" y1="268.30" x2="118.15" y2="365.50" stroke="#ececec" stroke-width="0.5" />
<line x1="132.10" y1="268.30" x2="132.10" y2="365.50" stroke="#ececec" stroke-width="0.5" />
<line x1="146.05" y1="268.30" x2="146.05" y2="365.50" stroke="#ececec" stroke-width="0.5" />
<line x1="20.50" y1="284.50" x2="160.00" y2="284.50" stroke="#ececec" stroke-width="0.5" />
<line x1="20.50" y1="300.70" x2="160.00" y2="300.70" stroke="#ececec" stroke-width="0.5" />
<line x1="20.50" y1="316.90" x2="160.00" y2="316.90" stroke="#ececec" stroke-width="0.5" />
<line x1="20.50" y1="333.10" x2="160.00" y2="333.10" stroke="#ececec" stroke-width="0.5" />
<line x1="20.50" y1="349.30" x2="160.00" y2="349.30" stroke="#ececec" stroke-width="0.5" />
<rect x="20.50" y="268.30" width="139.50" height="97.20" fill="none" stroke="#8c8c8c" stroke-width="0.7"/>
<line x1="20.50" y1="365.50" x2="20.50" y2="364.30" stroke="#8c8c8c" stroke-width="0.5" />
<line x1="20.50" y1="268.30" x2="20.50" y2="269.50" stroke="#8c8c8c" stroke-width="0.5" />
<text transform="translate(20.50,371.15) scale(0.8395833333333335,1)" font-size="4.33" text-anchor="middle" fill="#4a4a4a" stroke="#4a4a4a" stroke-width="0.16" font-family='"Liberation Sans", sans-serif' >0</text>
<line x1="34.45" y1="365.50" x2="34.45" y2="364.30" stroke="#8c8c8c" stroke-width="0.5" />
<line x1="34.45" y1="268.30" x2="34.45" y2="269.50" stroke="#8c8c8c" stroke-width="0.5" />
<text transform="translate(34.45,371.15) scale(0.8395833333333335,1)" font-size="4.33" text-anchor="middle" fill="#4a4a4a" stroke="#4a4a4a" stroke-width="0.16" font-family='"Liberation Sans", sans-serif' >2</text>
<line x1="48.40" y1="365.50" x2="48.40" y2="364.30" stroke="#8c8c8c" stroke-width="0.5" />
<line x1="48.40" y1="268.30" x2="48.40" y2="269.50" stroke="#8c8c8c" stroke-width="0.5" />
<text transform="translate(48.40,371.15) scale(0.8395833333333335,1)" font-size="4.33" text-anchor="middle" fill="#4a4a4a" stroke="#4a4a4a" stroke-width="0.16" font-family='"Liberation Sans", sans-serif' >4</text>
<line x1="62.35" y1="365.50" x2="62.35" y2="364.30" stroke="#8c8c8c" stroke-width="0.5" />
<line x1="62.35" y1="268.30" x2="62.35" y2="269.50" stroke="#8c8c8c" stroke-width="0.5" />
<text transform="translate(62.35,371.15) scale(0.8395833333333335,1)" font-size="4.33" text-anchor="middle" fill="#4a4a4a" stroke="#4a4a4a" stroke-width="0.16" font-family='"Liberation Sans", sans-serif' >6</text>
<line x1="76.30" y1="365.50" x2="76.30" y2="364.30" stroke="#8c8c8c" stroke-width="0.5" />
<line x1="76.30" y1="268.30" x2="76.30" y2="269.50" stroke="#8c8c8c" stroke-width="0.5" />
<text transform="translate(76.30,371.15) scale(0.8395833333333335,1)" font-size="4.33" text-anchor="middle" fill="#4a4a4a" stroke="#4a4a4a" stroke-width="0.16" font-family='"Liberation Sans", sans-serif' >8</text>
<line x1="90.25" y1="365.50" x2="90.25" y2="364.30" stroke="#8c8c8c" stroke-width="0.5" />
<line x1="90.25" y1="268.30" x2="90.25" y2="269.50" stroke="#8c8c8c" stroke-width="0.5" />
<text transform="translate(90.25,371.15) scale(0.8395833333333335,1)" font-size="4.33" text-anchor="middle" fill="#4a4a4a" stroke="#4a4a4a" stroke-width="0.16" font-family='"Liberation Sans", sans-serif' >10</text>
<line x1="104.20" y1="365.50" x2="104.20" y2="364.30" stroke="#8c8c8c" stroke-width="0.5" />
<line x1="104.20" y1="268.30" x2="104.20" y2="269.50" stroke="#8c8c8c" stroke-width="0.5" />
<text transform="translate(104.20,371.15) scale(0.8395833333333335,1)" font-size="4.33" text-anchor="middle" fill="#4a4a4a" stroke="#4a4a4a" stroke-width="0.16" font-family='"Liberation Sans", sans-serif' >12</text>
<line x1="118.15" y1="365.50" x2="118.15" y2="364.30" stroke="#8c8c8c" stroke-width="0.5" />
<line x1="118.15" y1="268.30" x2="118.15" y2="269.50" stroke="#8c8c8c" stroke-width="0.5" />
<text transform="translate(118.15,371.15) scale(0.8395833333333335,1)" font-size="4.33" text-anchor="middle" fill="#4a4a4a" stroke="#4a4a4a" stroke-width="0.16" font-family='"Liberation Sans", sans-serif' >14</text>
<line x1="132.10" y1="365.50" x2="132.10" y2="364.30" stroke="#8c8c8c" stroke-width="0.5" />
<line x1="132.10" y1="268.30" x2="132.10" y2="269.50" stroke="#8c8c8c" stroke-width="0.5" />
<text transform="translate(132.10,371.15) scale(0.8395833333333335,1)" font-size="4.33" text-anchor="middle" fill="#4a4a4a" stroke="#4a4a4a" stroke-width="0.16" font-family='"Liberation Sans", sans-serif' >16</text>
<line x1="146.05" y1="365.50" x2="146.05" y2="364.30" stroke="#8c8c8c" stroke-width="0.5" />
<line x1="146.05" y1="268.30" x2="146.05" y2="269.50" stroke="#8c8c8c" stroke-width="0.5" />
<text transform="translate(146.05,371.15) scale(0.8395833333333335,1)" font-size="4.33" text-anchor="middle" fill="#4a4a4a" stroke="#4a4a4a" stroke-width="0.16" font-family='"Liberation Sans", sans-serif' >18</text>
<line x1="160.00" y1="365.50" x2="160.00" y2="364.30" stroke="#8c8c8c" stroke-width="0.5" />
<line x1="160.00" y1="268.30" x2="160.00" y2="269.50" stroke="#8c8c8c" stroke-width="0.5" />
<text transform="translate(160.00,371.15) scale(0.8395833333333335,1)" font-size="4.33" text-anchor="middle" fill="#4a4a4a" stroke="#4a4a4a" stroke-width="0.16" font-family='"Liberation Sans", sans-serif' >20</text>
<line x1="20.50" y1="268.30" x2="21.70" y2="268.30" stroke="#8c8c8c" stroke-width="0.5" />
<line x1="160.00" y1="268.30" x2="158.80" y2="268.30" stroke="#8c8c8c" stroke-width="0.5" />
<text transform="translate(18.80,270.16) scale(0.9403333333333336,1)" font-size="4.33" text-anchor="end" fill="#4a4a4a" stroke="#4a4a4a" stroke-width="0.16" font-family='"Liberation Sans", sans-serif' >1</text>
<line x1="20.50" y1="284.50" x2="21.70" y2="284.50" stroke="#8c8c8c" stroke-width="0.5" />
<line x1="160.00" y1="284.50" x2="158.80" y2="284.50" stroke="#8c8c8c" stroke-width="0.5" />
<text transform="translate(18.80,286.36) scale(0.9403333333333336,1)" font-size="4.33" text-anchor="end" fill="#4a4a4a" stroke="#4a4a4a" stroke-width="0.16" font-family='"Liberation Sans", sans-serif' >0.8</text>
<line x1="20.50" y1="300.70" x2="21.70" y2="300.70" stroke="#8c8c8c" stroke-width="0.5" />
<line x1="160.00" y1="300.70" x2="158.80" y2="300.70" stroke="#8c8c8c" stroke-width="0.5" />
<text transform="translate(18.80,302.56) scale(0.9403333333333336,1)" font-size="4.33" text-anchor="end" fill="#4a4a4a" stroke="#4a4a4a" stroke-width="0.16" font-family='"Liberation Sans", sans-serif' >0.6</text>
<line x1="20.50" y1="316.90" x2="21.70" y2="316.90" stroke="#8c8c8c" stroke-width="0.5" />
<line x1="160.00" y1="316.90" x2="158.80" y2="316.90" stroke="#8c8c8c" stroke-width="0.5" />
<text transform="translate(18.80,318.76) scale(0.9403333333333336,1)" font-size="4.33" text-anchor="end" fill="#4a4a4a" stroke="#4a4a4a" stroke-width="0.16" font-family='"Liberation Sans", sans-serif' >0.4</text>
<line x1="20.50" y1="333.10" x2="21.70" y2="333.10" stroke="#8c8c8c" stroke-width="0.5" />
<line x1="160.00" y1="333.10" x2="158.80" y2="333.10" stroke="#8c8c8c" stroke-width="0.5" />
<text transform="translate(18.80,334.96) scale(0.9403333333333336,1)" font-size="4.33" text-anchor="end" fill="#4a4a4a" stroke="#4a4a4a" stroke-width="0.16" font-family='"Liberation Sans", sans-serif' >0.2</text>
<line x1="20.50" y1="349.30" x2="21.70" y2="349.30" stroke="#8c8c8c" stroke-width="0.5" />
<line x1="160.00" y1="349.30" x2="158.80" y2="349.30" stroke="#8c8c8c" stroke-width="0.5" />
<text transform="translate(18.80,351.16) scale(0.9403333333333336,1)" font-size="4.33" text-anchor="end" fill="#4a4a4a" stroke="#4a4a4a" stroke-width="0.16" font-family='"Liberation Sans", sans-serif' >0</text>
<line x1="20.50" y1="365.50" x2="21.70" y2="365.50" stroke="#8c8c8c" stroke-width="0.5" />
<line x1="160.00" y1="365.50" x2="158.80" y2="365.50" stroke="#8c8c8c" stroke-width="0.5" />
<text transform="translate(18.80,367.36) scale(0.9403333333333336,1)" font-size="4.33" text-anchor="end" fill="#4a4a4a" stroke="#4a4a4a" stroke-width="0.16" font-family='"Liberation Sans", sans-serif' >-0.2</text>
<text transform="translate(8.60,316.90) rotate(-90) scale(1,0.95)" font-size="4.33" text-anchor="middle" fill="#4a4a4a" stroke="#4a4a4a" stroke-width="0.16" font-family='"Liberation Sans", sans-serif' >Sample Autocorrelation</text>
<text transform="translate(90.25,377.52) scale(0.8395833333333335,1)" font-size="5.20" text-anchor="middle" fill="#4a4a4a" stroke="#4a4a4a" stroke-width="0.16" font-family='"Liberation Sans", sans-serif' >Lag</text>
<line x1="23.99" y1="340.23" x2="160.00" y2="340.23" stroke="#9c9cd6" stroke-width="0.8836363636363636" />
<line x1="23.99" y1="358.37" x2="160.00" y2="358.37" stroke="#9c9cd6" stroke-width="0.8836363636363636" />
<line x1="20.50" y1="349.30" x2="160.00" y2="349.30" stroke="#a29c9c" stroke-width="0.8" />
<line x1="20.50" y1="349.30" x2="20.50" y2="268.30" stroke="#dca898" stroke-width="1.0" />
<line x1="27.48" y1="349.30" x2="27.48" y2="350.43" stroke="#cc8070" stroke-width="0.6" />
<line x1="34.45" y1="349.30" x2="34.45" y2="355.13" stroke="#cc8070" stroke-width="0.6" />
<line x1="41.42" y1="349.30" x2="41.42" y2="347.03" stroke="#cc8070" stroke-width="0.6" />
<line x1="48.40" y1="349.30" x2="48.40" y2="349.95" stroke="#cc8070" stroke-width="0.6" />
<line x1="55.38" y1="349.30" x2="55.38" y2="353.35" stroke="#cc8070" stroke-width="0.6" />
<line x1="62.35" y1="349.30" x2="62.35" y2="344.04" stroke="#cc8070" stroke-width="0.6" />
<line x1="69.33" y1="349.30" x2="69.33" y2="347.92" stroke="#cc8070" stroke-width="0.6" />
<line x1="76.30" y1="349.30" x2="76.30" y2="343.63" stroke="#cc8070" stroke-width="0.6" />
<line x1="83.28" y1="349.30" x2="83.28" y2="343.63" stroke="#cc8070" stroke-width="0.6" />
<line x1="90.25" y1="349.30" x2="90.25" y2="352.94" stroke="#cc8070" stroke-width="0.6" />
<line x1="97.22" y1="349.30" x2="97.22" y2="355.70" stroke="#cc8070" stroke-width="0.6" />
<line x1="104.20" y1="349.30" x2="104.20" y2="350.68" stroke="#cc8070" stroke-width="0.6" />
<line x1="111.17" y1="349.30" x2="111.17" y2="357.08" stroke="#cc8070" stroke-width="0.6" />
<line x1="118.15" y1="349.30" x2="118.15" y2="348.00" stroke="#cc8070" stroke-width="0.6" />
<line x1="125.12" y1="349.30" x2="125.12" y2="350.92" stroke="#cc8070" stroke-width="0.6" />
<line x1="132.10" y1="349.30" x2="132.10" y2="350.51" stroke="#cc8070" stroke-width="0.6" />
<line x1="139.07" y1="349.30" x2="139.07" y2="353.67" stroke="#cc8070" stroke-width="0.6" />
<line x1="146.05" y1="349.30" x2="146.05" y2="348.65" stroke="#cc8070" stroke-width="0.6" />
<line x1="153.03" y1="349.30" x2="153.03" y2="348.65" stroke="#cc8070" stroke-width="0.6" />
<line x1="160.00" y1="349.30" x2="160.00" y2="350.92" stroke="#cc8070" stroke-width="0.6" />
<circle cx="20.50" cy="268.30" r="1.13" fill="#5a3224"/>
<circle cx="27.48" cy="350.43" r="1.13" fill="#5a3224"/>
<circle cx="34.45" cy="355.13" r="1.13" fill="#5a3224"/>
<circle cx="41.42" cy="347.03" r="1.13" fill="#5a3224"/>
<circle cx="48.40" cy="349.95" r="1.13" fill="#5a3224"/>
<circle cx="55.38" cy="353.35" r="1.13" fill="#5a3224"/>
<circle cx="62.35" cy="344.04" r="1.13" fill="#5a3224"/>
<circle cx="69.33" cy="347.92" r="1.13" fill="#5a3224"/>
<circle cx="76.30" cy="343.63" r="1.13" fill="#5a3224"/>
<circle cx="83.28" cy="343.63" r="1.13" fill="#5a3224"/>
<circle cx="90.25" cy="352.94" r="1.13" fill="#5a3224"/>
<circle cx="97.22" cy="355.70" r="1.13" fill="#5a3224"/>
<circle cx="104.20" cy="350.68" r="1.13" fill="#5a3224"/>
<circle cx="111.17" cy="357.08" r="1.13" fill="#5a3224"/>
<circle cx="118.15" cy="348.00" r="1.13" fill="#5a3224"/>
<circle cx="125.12" cy="350.92" r="1.13" fill="#5a3224"/>
<circle cx="132.10" cy="350.51" r="1.13" fill="#5a3224"/>
<circle cx="139.07" cy="353.67" r="1.13" fill="#5a3224"/>
<circle cx="146.05" cy="348.65" r="1.13" fill="#5a3224"/>
<circle cx="153.03" cy="348.65" r="1.13" fill="#5a3224"/>
<circle cx="160.00" cy="350.92" r="1.13" fill="#5a3224"/>
<text x="21.20" y="396.60" font-size="7.2" fill="#1e1e1e" stroke="#1e1e1e" stroke-width="0.14" font-family='"Liberation Serif", serif' textLength="126.30" lengthAdjust="spacingAndGlyphs">ACF of Standardized Residuals of SSEC</text>
<line x1="210.11" y1="272.00" x2="210.11" y2="363.60" stroke="#ececec" stroke-width="0.5" />
<line x1="224.72" y1="272.00" x2="224.72" y2="363.60" stroke="#ececec" stroke-width="0.5" />
<line x1="239.33" y1="272.00" x2="239.33" y2="363.60" stroke="#ececec" stroke-width="0.5" />
<line x1="253.94" y1="272.00" x2="253.94" y2="363.60" stroke="#ececec" stroke-width="0.5" />
<line x1="268.55" y1="272.00" x2="268.55" y2="363.60" stroke="#ececec" stroke-width="0.5" />
<line x1="283.16" y1="272.00" x2="283.16" y2="363.60" stroke="#ececec" stroke-width="0.5" />
<line x1="297.77" y1="272.00" x2="297.77" y2="363.60" stroke="#ececec" stroke-width="0.5" />
<line x1="312.38" y1="272.00" x2="312.38" y2="363.60" stroke="#ececec" stroke-width="0.5" />
<line x1="326.99" y1="272.00" x2="326.99" y2="363.60" stroke="#ececec" stroke-width="0.5" />
<line x1="195.50" y1="287.27" x2="341.60" y2="287.27" stroke="#ececec" stroke-width="0.5" />
<line x1="195.50" y1="302.53" x2="341.60" y2="302.53" stroke="#ececec" stroke-width="0.5" />
<line x1="195.50" y1="317.80" x2="341.60" y2="317.80" stroke="#ececec" stroke-width="0.5" />
<line x1="195.50" y1="333.07" x2="341.60" y2="333.07" stroke="#ececec" stroke-width="0.5" />
<line x1="195.50" y1="348.33" x2="341.60" y2="348.33" stroke="#ececec" stroke-width="0.5" />
<rect x="195.50" y="272.00" width="146.10" height="91.60" fill="none" stroke="#8c8c8c" stroke-width="0.7"/>
<line x1="195.50" y1="363.60" x2="195.50" y2="362.40" stroke="#8c8c8c" stroke-width="0.5" />
<line x1="195.50" y1="272.00" x2="195.50" y2="273.20" stroke="#8c8c8c" stroke-width="0.5" />
<text transform="translate(195.50,368.95) scale(0.9330622270742357,1)" font-size="4.08" text-anchor="middle" fill="#4a4a4a" stroke="#4a4a4a" stroke-width="0.16" font-family='"Liberation Sans", sans-serif' >0</text>
<line x1="210.11" y1="363.60" x2="210.11" y2="362.40" stroke="#8c8c8c" stroke-width="0.5" />
<line x1="210.11" y1="272.00" x2="210.11" y2="273.20" stroke="#8c8c8c" stroke-width="0.5" />
<text transform="translate(210.11,368.95) scale(0.9330622270742357,1)" font-size="4.08" text-anchor="middle" fill="#4a4a4a" stroke="#4a4a4a" stroke-width="0.16" font-family='"Liberation Sans", sans-serif' >2</text>
<line x1="224.72" y1="363.60" x2="224.72" y2="362.40" stroke="#8c8c8c" stroke-width="0.5" />
<line x1="224.72" y1="272.00" x2="224.72" y2="273.20" stroke="#8c8c8c" stroke-width="0.5" />
<text transform="translate(224.72,368.95) scale(0.9330622270742357,1)" font-size="4.08" text-anchor="middle" fill="#4a4a4a" stroke="#4a4a4a" stroke-width="0.16" font-family='"Liberation Sans", sans-serif' >4</text>
<line x1="239.33" y1="363.60" x2="239.33" y2="362.40" stroke="#8c8c8c" stroke-width="0.5" />
<line x1="239.33" y1="272.00" x2="239.33" y2="273.20" stroke="#8c8c8c" stroke-width="0.5" />
<text transform="translate(239.33,368.95) scale(0.9330622270742357,1)" font-size="4.08" text-anchor="middle" fill="#4a4a4a" stroke="#4a4a4a" stroke-width="0.16" font-family='"Liberation Sans", sans-serif' >6</text>
<line x1="253.94" y1="363.60" x2="253.94" y2="362.40" stroke="#8c8c8c" stroke-width="0.5" />
<line x1="253.94" y1="272.00" x2="253.94" y2="273.20" stroke="#8c8c8c" stroke-width="0.5" />
<text transform="translate(253.94,368.95) scale(0.9330622270742357,1)" font-size="4.08" text-anchor="middle" fill="#4a4a4a" stroke="#4a4a4a" stroke-width="0.16" font-family='"Liberation Sans", sans-serif' >8</text>
<line x1="268.55" y1="363.60" x2="268.55" y2="362.40" stroke="#8c8c8c" stroke-width="0.5" />
<line x1="268.55" y1="272.00" x2="268.55" y2="273.20" stroke="#8c8c8c" stroke-width="0.5" />
<text transform="translate(268.55,368.95) scale(0.9330622270742357,1)" font-size="4.08" text-anchor="middle" fill="#4a4a4a" stroke="#4a4a4a" stroke-width="0.16" font-family='"Liberation Sans", sans-serif' >10</text>
<line x1="283.16" y1="363.60" x2="283.16" y2="362.40" stroke="#8c8c8c" stroke-width="0.5" />
<line x1="283.16" y1="272.00" x2="283.16" y2="273.20" stroke="#8c8c8c" stroke-width="0.5" />
<text transform="translate(283.16,368.95) scale(0.9330622270742357,1)" font-size="4.08" text-anchor="middle" fill="#4a4a4a" stroke="#4a4a4a" stroke-width="0.16" font-family='"Liberation Sans", sans-serif' >12</text>
<line x1="297.77" y1="363.60" x2="297.77" y2="362.40" stroke="#8c8c8c" stroke-width="0.5" />
<line x1="297.77" y1="272.00" x2="297.77" y2="273.20" stroke="#8c8c8c" stroke-width="0.5" />
<text transform="translate(297.77,368.95) scale(0.9330622270742357,1)" font-size="4.08" text-anchor="middle" fill="#4a4a4a" stroke="#4a4a4a" stroke-width="0.16" font-family='"Liberation Sans", sans-serif' >14</text>
<line x1="312.38" y1="363.60" x2="312.38" y2="362.40" stroke="#8c8c8c" stroke-width="0.5" />
<line x1="312.38" y1="272.00" x2="312.38" y2="273.20" stroke="#8c8c8c" stroke-width="0.5" />
<text transform="translate(312.38,368.95) scale(0.9330622270742357,1)" font-size="4.08" text-anchor="middle" fill="#4a4a4a" stroke="#4a4a4a" stroke-width="0.16" font-family='"Liberation Sans", sans-serif' >16</text>
<line x1="326.99" y1="363.60" x2="326.99" y2="362.40" stroke="#8c8c8c" stroke-width="0.5" />
<line x1="326.99" y1="272.00" x2="326.99" y2="273.20" stroke="#8c8c8c" stroke-width="0.5" />
<text transform="translate(326.99,368.95) scale(0.9330622270742357,1)" font-size="4.08" text-anchor="middle" fill="#4a4a4a" stroke="#4a4a4a" stroke-width="0.16" font-family='"Liberation Sans", sans-serif' >18</text>
<line x1="341.60" y1="363.60" x2="341.60" y2="362.40" stroke="#8c8c8c" stroke-width="0.5" />
<line x1="341.60" y1="272.00" x2="341.60" y2="273.20" stroke="#8c8c8c" stroke-width="0.5" />
<text transform="translate(341.60,368.95) scale(0.9330622270742357,1)" font-size="4.08" text-anchor="middle" fill="#4a4a4a" stroke="#4a4a4a" stroke-width="0.16" font-family='"Liberation Sans", sans-serif' >20</text>
<line x1="195.50" y1="272.00" x2="196.70" y2="272.00" stroke="#8c8c8c" stroke-width="0.5" />
<line x1="341.60" y1="272.00" x2="340.40" y2="272.00" stroke="#8c8c8c" stroke-width="0.5" />
<text transform="translate(193.80,273.77) scale(1.045029694323144,1)" font-size="4.08" text-anchor="end" fill="#4a4a4a" stroke="#4a4a4a" stroke-width="0.16" font-family='"Liberation Sans", sans-serif' >1</text>
<line x1="195.50" y1="287.27" x2="196.70" y2="287.27" stroke="#8c8c8c" stroke-width="0.5" />
<line x1="341.60" y1="287.27" x2="340.40" y2="287.27" stroke="#8c8c8c" stroke-width="0.5" />
<text transform="translate(193.80,289.04) scale(1.045029694323144,1)" font-size="4.08" text-anchor="end" fill="#4a4a4a" stroke="#4a4a4a" stroke-width="0.16" font-family='"Liberation Sans", sans-serif' >0.8</text>
<line x1="195.50" y1="302.53" x2="196.70" y2="302.53" stroke="#8c8c8c" stroke-width="0.5" />
<line x1="341.60" y1="302.53" x2="340.40" y2="302.53" stroke="#8c8c8c" stroke-width="0.5" />
<text transform="translate(193.80,304.30) scale(1.045029694323144,1)" font-size="4.08" text-anchor="end" fill="#4a4a4a" stroke="#4a4a4a" stroke-width="0.16" font-family='"Liberation Sans", sans-serif' >0.6</text>
<line x1="195.50" y1="317.80" x2="196.70" y2="317.80" stroke="#8c8c8c" stroke-width="0.5" />
<line x1="341.60" y1="317.80" x2="340.40" y2="317.80" stroke="#8c8c8c" stroke-width="0.5" />
<text transform="translate(193.80,319.57) scale(1.045029694323144,1)" font-size="4.08" text-anchor="end" fill="#4a4a4a" stroke="#4a4a4a" stroke-width="0.16" font-family='"Liberation Sans", sans-serif' >0.4</text>
<line x1="195.50" y1="333.07" x2="196.70" y2="333.07" stroke="#8c8c8c" stroke-width="0.5" />
<line x1="341.60" y1="333.07" x2="340.40" y2="333.07" stroke="#8c8c8c" stroke-width="0.5" />
<text transform="translate(193.80,334.84) scale(1.045029694323144,1)" font-size="4.08" text-anchor="end" fill="#4a4a4a" stroke="#4a4a4a" stroke-width="0.16" font-family='"Liberation Sans", sans-serif' >0.2</text>
<line x1="195.50" y1="348.33" x2="196.70" y2="348.33" stroke="#8c8c8c" stroke-width="0.5" />
<line x1="341.60" y1="348.33" x2="340.40" y2="348.33" stroke="#8c8c8c" stroke-width="0.5" />
<text transform="translate(193.80,350.10) scale(1.045029694323144,1)" font-size="4.08" text-anchor="end" fill="#4a4a4a" stroke="#4a4a4a" stroke-width="0.16" font-family='"Liberation Sans", sans-serif' >0</text>
<line x1="195.50" y1="363.60" x2="196.70" y2="363.60" stroke="#8c8c8c" stroke-width="0.5" />
<line x1="341.60" y1="363.60" x2="340.40" y2="363.60" stroke="#8c8c8c" stroke-width="0.5" />
<text transform="translate(193.80,365.37) scale(1.045029694323144,1)" font-size="4.08" text-anchor="end" fill="#4a4a4a" stroke="#4a4a4a" stroke-width="0.16" font-family='"Liberation Sans", sans-serif' >-0.2</text>
<text transform="translate(182.50,317.80) rotate(-90) scale(1,0.95)" font-size="4.08" text-anchor="middle" fill="#4a4a4a" stroke="#4a4a4a" stroke-width="0.16" font-family='"Liberation Sans", sans-serif' >Sample Autocorrelation</text>
<text transform="translate(268.55,374.98) scale(0.9330622270742357,1)" font-size="4.90" text-anchor="middle" fill="#4a4a4a" stroke="#4a4a4a" stroke-width="0.16" font-family='"Liberation Sans", sans-serif' >Lag</text>
<line x1="199.15" y1="339.78" x2="341.60" y2="339.78" stroke="#9c9cd6" stroke-width="0.832727272727273" />
<line x1="199.15" y1="356.88" x2="341.60" y2="356.88" stroke="#9c9cd6" stroke-width="0.832727272727273" />
<line x1="195.50" y1="348.33" x2="341.60" y2="348.33" stroke="#a29c9c" stroke-width="0.8" />
<line x1="195.50" y1="348.33" x2="195.50" y2="272.00" stroke="#dca898" stroke-width="1.0" />
<line x1="202.81" y1="348.33" x2="202.81" y2="349.17" stroke="#cc8070" stroke-width="0.6" />
<line x1="210.11" y1="348.33" x2="210.11" y2="350.85" stroke="#cc8070" stroke-width="0.6" />
<line x1="217.41" y1="348.33" x2="217.41" y2="340.78" stroke="#cc8070" stroke-width="0.6" />
<line x1="224.72" y1="348.33" x2="224.72" y2="350.78" stroke="#cc8070" stroke-width="0.6" />
<line x1="232.03" y1="348.33" x2="232.03" y2="350.09" stroke="#cc8070" stroke-width="0.6" />
<line x1="239.33" y1="348.33" x2="239.33" y2="347.11" stroke="#cc8070" stroke-width="0.6" />
<line x1="246.63" y1="348.33" x2="246.63" y2="349.40" stroke="#cc8070" stroke-width="0.6" />
<line x1="253.94" y1="348.33" x2="253.94" y2="350.55" stroke="#cc8070" stroke-width="0.6" />
<line x1="261.25" y1="348.33" x2="261.25" y2="340.78" stroke="#cc8070" stroke-width="0.6" />
<line x1="268.55" y1="348.33" x2="268.55" y2="349.25" stroke="#cc8070" stroke-width="0.6" />
<line x1="275.86" y1="348.33" x2="275.86" y2="349.94" stroke="#cc8070" stroke-width="0.6" />
<line x1="283.16" y1="348.33" x2="283.16" y2="340.47" stroke="#cc8070" stroke-width="0.6" />
<line x1="290.47" y1="348.33" x2="290.47" y2="351.54" stroke="#cc8070" stroke-width="0.6" />
<line x1="297.77" y1="348.33" x2="297.77" y2="352.00" stroke="#cc8070" stroke-width="0.6" />
<line x1="305.08" y1="348.33" x2="305.08" y2="350.17" stroke="#cc8070" stroke-width="0.6" />
<line x1="312.38" y1="348.33" x2="312.38" y2="352.23" stroke="#cc8070" stroke-width="0.6" />
<line x1="319.69" y1="348.33" x2="319.69" y2="350.17" stroke="#cc8070" stroke-width="0.6" />
<line x1="326.99" y1="348.33" x2="326.99" y2="350.39" stroke="#cc8070" stroke-width="0.6" />
<line x1="334.30" y1="348.33" x2="334.30" y2="350.39" stroke="#cc8070" stroke-width="0.6" />
<line x1="341.60" y1="348.33" x2="341.60" y2="352.91" stroke="#cc8070" stroke-width="0.6" />
<circle cx="195.50" cy="272.00" r="1.10" fill="#5a3224"/>
<circle cx="202.81" cy="349.17" r="1.10" fill="#5a3224"/>
<circle cx="210.11" cy="350.85" r="1.10" fill="#5a3224"/>
<circle cx="217.41" cy="340.78" r="1.10" fill="#5a3224"/>
<circle cx="224.72" cy="350.78" r="1.10" fill="#5a3224"/>
<circle cx="232.03" cy="350.09" r="1.10" fill="#5a3224"/>
<circle cx="239.33" cy="347.11" r="1.10" fill="#5a3224"/>
<circle cx="246.63" cy="349.40" r="1.10" fill="#5a3224"/>
<circle cx="253.94" cy="350.55" r="1.10" fill="#5a3224"/>
<circle cx="261.25" cy="340.78" r="1.10" fill="#5a3224"/>
<circle cx="268.55" cy="349.25" r="1.10" fill="#5a3224"/>
<circle cx="275.86" cy="349.94" r="1.10" fill="#5a3224"/>
<circle cx="283.16" cy="340.47" r="1.10" fill="#5a3224"/>
<circle cx="290.47" cy="351.54" r="1.10" fill="#5a3224"/>
<circle cx="297.77" cy="352.00" r="1.10" fill="#5a3224"/>
<circle cx="305.08" cy="350.17" r="1.10" fill="#5a3224"/>
<circle cx="312.38" cy="352.23" r="1.10" fill="#5a3224"/>
<circle cx="319.69" cy="350.17" r="1.10" fill="#5a3224"/>
<circle cx="326.99" cy="350.39" r="1.10" fill="#5a3224"/>
<circle cx="334.30" cy="350.39" r="1.10" fill="#5a3224"/>
<circle cx="341.60" cy="352.91" r="1.10" fill="#5a3224"/>
<text x="183.80" y="396.40" font-size="7.2" fill="#1e1e1e" stroke="#1e1e1e" stroke-width="0.14" font-family='"Liberation Serif", serif' textLength="154.20" lengthAdjust="spacingAndGlyphs">ACF of Squared Standardized Residuals of SSEC</text>
<line x1="33.60" y1="419.30" x2="33.60" y2="512.80" stroke="#ececec" stroke-width="0.5" />
<line x1="47.70" y1="419.30" x2="47.70" y2="512.80" stroke="#ececec" stroke-width="0.5" />
<line x1="61.80" y1="419.30" x2="61.80" y2="512.80" stroke="#ececec" stroke-width="0.5" />
<line x1="75.90" y1="419.30" x2="75.90" y2="512.80" stroke="#ececec" stroke-width="0.5" />
<line x1="90.00" y1="419.30" x2="90.00" y2="512.80" stroke="#ececec" stroke-width="0.5" />
<line x1="104.10" y1="419.30" x2="104.10" y2="512.80" stroke="#ececec" stroke-width="0.5" />
<line x1="118.20" y1="419.30" x2="118.20" y2="512.80" stroke="#ececec" stroke-width="0.5" />
<line x1="132.30" y1="419.30" x2="132.30" y2="512.80" stroke="#ececec" stroke-width="0.5" />
<line x1="146.40" y1="419.30" x2="146.40" y2="512.80" stroke="#ececec" stroke-width="0.5" />
<line x1="19.50" y1="434.88" x2="160.50" y2="434.88" stroke="#ececec" stroke-width="0.5" />
<line x1="19.50" y1="450.47" x2="160.50" y2="450.47" stroke="#ececec" stroke-width="0.5" />
<line x1="19.50" y1="466.05" x2="160.50" y2="466.05" stroke="#ececec" stroke-width="0.5" />
<line x1="19.50" y1="481.63" x2="160.50" y2="481.63" stroke="#ececec" stroke-width="0.5" />
<line x1="19.50" y1="497.22" x2="160.50" y2="497.22" stroke="#ececec" stroke-width="0.5" />
<rect x="19.50" y="419.30" width="141.00" height="93.50" fill="none" stroke="#8c8c8c" stroke-width="0.7"/>
<line x1="19.50" y1="512.80" x2="19.50" y2="511.60" stroke="#8c8c8c" stroke-width="0.5" />
<line x1="19.50" y1="419.30" x2="19.50" y2="420.50" stroke="#8c8c8c" stroke-width="0.5" />
<text transform="translate(19.50,518.25) scale(0.8821925133689845,1)" font-size="4.16" text-anchor="middle" fill="#4a4a4a" stroke="#4a4a4a" stroke-width="0.16" font-family='"Liberation Sans", sans-serif' >0</text>
<line x1="33.60" y1="512.80" x2="33.60" y2="511.60" stroke="#8c8c8c" stroke-width="0.5" />
<line x1="33.60" y1="419.30" x2="33.60" y2="420.50" stroke="#8c8c8c" stroke-width="0.5" />
<text transform="translate(33.60,518.25) scale(0.8821925133689845,1)" font-size="4.16" text-anchor="middle" fill="#4a4a4a" stroke="#4a4a4a" stroke-width="0.16" font-family='"Liberation Sans", sans-serif' >2</text>
<line x1="47.70" y1="512.80" x2="47.70" y2="511.60" stroke="#8c8c8c" stroke-width="0.5" />
<line x1="47.70" y1="419.30" x2="47.70" y2="420.50" stroke="#8c8c8c" stroke-width="0.5" />
<text transform="translate(47.70,518.25) scale(0.8821925133689845,1)" font-size="4.16" text-anchor="middle" fill="#4a4a4a" stroke="#4a4a4a" stroke-width="0.16" font-family='"Liberation Sans", sans-serif' >4</text>
<line x1="61.80" y1="512.80" x2="61.80" y2="511.60" stroke="#8c8c8c" stroke-width="0.5" />
<line x1="61.80" y1="419.30" x2="61.80" y2="420.50" stroke="#8c8c8c" stroke-width="0.5" />
<text transform="translate(61.80,518.25) scale(0.8821925133689845,1)" font-size="4.16" text-anchor="middle" fill="#4a4a4a" stroke="#4a4a4a" stroke-width="0.16" font-family='"Liberation Sans", sans-serif' >6</text>
<line x1="75.90" y1="512.80" x2="75.90" y2="511.60" stroke="#8c8c8c" stroke-width="0.5" />
<line x1="75.90" y1="419.30" x2="75.90" y2="420.50" stroke="#8c8c8c" stroke-width="0.5" />
<text transform="translate(75.90,518.25) scale(0.8821925133689845,1)" font-size="4.16" text-anchor="middle" fill="#4a4a4a" stroke="#4a4a4a" stroke-width="0.16" font-family='"Liberation Sans", sans-serif' >8</text>
<line x1="90.00" y1="512.80" x2="90.00" y2="511.60" stroke="#8c8c8c" stroke-width="0.5" />
<line x1="90.00" y1="419.30" x2="90.00" y2="420.50" stroke="#8c8c8c" stroke-width="0.5" />
<text transform="translate(90.00,518.25) scale(0.8821925133689845,1)" font-size="4.16" text-anchor="middle" fill="#4a4a4a" stroke="#4a4a4a" stroke-width="0.16" font-family='"Liberation Sans", sans-serif' >10</text>
<line x1="104.10" y1="512.80" x2="104.10" y2="511.60" stroke="#8c8c8c" stroke-width="0.5" />
<line x1="104.10" y1="419.30" x2="104.10" y2="420.50" stroke="#8c8c8c" stroke-width="0.5" />
<text transform="translate(104.10,518.25) scale(0.8821925133689845,1)" font-size="4.16" text-anchor="middle" fill="#4a4a4a" stroke="#4a4a4a" stroke-width="0.16" font-family='"Liberation Sans", sans-serif' >12</text>
<line x1="118.20" y1="512.80" x2="118.20" y2="511.60" stroke="#8c8c8c" stroke-width="0.5" />
<line x1="118.20" y1="419.30" x2="118.20" y2="420.50" stroke="#8c8c8c" stroke-width="0.5" />
<text transform="translate(118.20,518.25) scale(0.8821925133689845,1)" font-size="4.16" text-anchor="middle" fill="#4a4a4a" stroke="#4a4a4a" stroke-width="0.16" font-family='"Liberation Sans", sans-serif' >14</text>
<line x1="132.30" y1="512.80" x2="132.30" y2="511.60" stroke="#8c8c8c" stroke-width="0.5" />
<line x1="132.30" y1="419.30" x2="132.30" y2="420.50" stroke="#8c8c8c" stroke-width="0.5" />
<text transform="translate(132.30,518.25) scale(0.8821925133689845,1)" font-size="4.16" text-anchor="middle" fill="#4a4a4a" stroke="#4a4a4a" stroke-width="0.16" font-family='"Liberation Sans", sans-serif' >16</text>
<line x1="146.40" y1="512.80" x2="146.40" y2="511.60" stroke="#8c8c8c" stroke-width="0.5" />
<line x1="146.40" y1="419.30" x2="146.40" y2="420.50" stroke="#8c8c8c" stroke-width="0.5" />
<text transform="translate(146.40,518.25) scale(0.8821925133689845,1)" font-size="4.16" text-anchor="middle" fill="#4a4a4a" stroke="#4a4a4a" stroke-width="0.16" font-family='"Liberation Sans", sans-serif' >18</text>
<line x1="160.50" y1="512.80" x2="160.50" y2="511.60" stroke="#8c8c8c" stroke-width="0.5" />
<line x1="160.50" y1="419.30" x2="160.50" y2="420.50" stroke="#8c8c8c" stroke-width="0.5" />
<text transform="translate(160.50,518.25) scale(0.8821925133689845,1)" font-size="4.16" text-anchor="middle" fill="#4a4a4a" stroke="#4a4a4a" stroke-width="0.16" font-family='"Liberation Sans", sans-serif' >20</text>
<line x1="19.50" y1="419.30" x2="20.70" y2="419.30" stroke="#8c8c8c" stroke-width="0.5" />
<line x1="160.50" y1="419.30" x2="159.30" y2="419.30" stroke="#8c8c8c" stroke-width="0.5" />
<text transform="translate(17.80,421.10) scale(0.9880556149732628,1)" font-size="4.16" text-anchor="end" fill="#4a4a4a" stroke="#4a4a4a" stroke-width="0.16" font-family='"Liberation Sans", sans-serif' >1</text>
<line x1="19.50" y1="434.88" x2="20.70" y2="434.88" stroke="#8c8c8c" stroke-width="0.5" />
<line x1="160.50" y1="434.88" x2="159.30" y2="434.88" stroke="#8c8c8c" stroke-width="0.5" />
<text transform="translate(17.80,436.68) scale(0.9880556149732628,1)" font-size="4.16" text-anchor="end" fill="#4a4a4a" stroke="#4a4a4a" stroke-width="0.16" font-family='"Liberation Sans", sans-serif' >0.8</text>
<line x1="19.50" y1="450.47" x2="20.70" y2="450.47" stroke="#8c8c8c" stroke-width="0.5" />
<line x1="160.50" y1="450.47" x2="159.30" y2="450.47" stroke="#8c8c8c" stroke-width="0.5" />
<text transform="translate(17.80,452.27) scale(0.9880556149732628,1)" font-size="4.16" text-anchor="end" fill="#4a4a4a" stroke="#4a4a4a" stroke-width="0.16" font-family='"Liberation Sans", sans-serif' >0.6</text>
<line x1="19.50" y1="466.05" x2="20.70" y2="466.05" stroke="#8c8c8c" stroke-width="0.5" />
<line x1="160.50" y1="466.05" x2="159.30" y2="466.05" stroke="#8c8c8c" stroke-width="0.5" />
<text transform="translate(17.80,467.85) scale(0.9880556149732628,1)" font-size="4.16" text-anchor="end" fill="#4a4a4a" stroke="#4a4a4a" stroke-width="0.16" font-family='"Liberation Sans", sans-serif' >0.4</text>
<line x1="19.50" y1="481.63" x2="20.70" y2="481.63" stroke="#8c8c8c" stroke-width="0.5" />
<line x1="160.50" y1="481.63" x2="159.30" y2="481.63" stroke="#8c8c8c" stroke-width="0.5" />
<text transform="translate(17.80,483.43) scale(0.9880556149732628,1)" font-size="4.16" text-anchor="end" fill="#4a4a4a" stroke="#4a4a4a" stroke-width="0.16" font-family='"Liberation Sans", sans-serif' >0.2</text>
<line x1="19.50" y1="497.22" x2="20.70" y2="497.22" stroke="#8c8c8c" stroke-width="0.5" />
<line x1="160.50" y1="497.22" x2="159.30" y2="497.22" stroke="#8c8c8c" stroke-width="0.5" />
<text transform="translate(17.80,499.02) scale(0.9880556149732628,1)" font-size="4.16" text-anchor="end" fill="#4a4a4a" stroke="#4a4a4a" stroke-width="0.16" font-family='"Liberation Sans", sans-serif' >0</text>
<line x1="19.50" y1="512.80" x2="20.70" y2="512.80" stroke="#8c8c8c" stroke-width="0.5" />
<line x1="160.50" y1="512.80" x2="159.30" y2="512.80" stroke="#8c8c8c" stroke-width="0.5" />
<text transform="translate(17.80,514.60) scale(0.9880556149732628,1)" font-size="4.16" text-anchor="end" fill="#4a4a4a" stroke="#4a4a4a" stroke-width="0.16" font-family='"Liberation Sans", sans-serif' >-0.2</text>
<text transform="translate(7.80,466.05) rotate(-90) scale(1,0.95)" font-size="4.16" text-anchor="middle" fill="#4a4a4a" stroke="#4a4a4a" stroke-width="0.16" font-family='"Liberation Sans", sans-serif' >Sample Autocorrelation</text>
<text transform="translate(90.00,524.40) scale(0.8821925133689845,1)" font-size="5.00" text-anchor="middle" fill="#4a4a4a" stroke="#4a4a4a" stroke-width="0.16" font-family='"Liberation Sans", sans-serif' >Lag</text>
<line x1="23.02" y1="488.41" x2="160.50" y2="488.41" stroke="#9c9cd6" stroke-width="0.8499999999999995" />
<line x1="23.02" y1="506.02" x2="160.50" y2="506.02" stroke="#9c9cd6" stroke-width="0.8499999999999995" />
<line x1="19.50" y1="497.22" x2="160.50" y2="497.22" stroke="#a29c9c" stroke-width="0.8" />
<line x1="19.50" y1="497.22" x2="19.50" y2="419.30" stroke="#dca898" stroke-width="1.0" />
<line x1="26.55" y1="497.22" x2="26.55" y2="496.05" stroke="#cc8070" stroke-width="0.6" />
<line x1="33.60" y1="497.22" x2="33.60" y2="497.68" stroke="#cc8070" stroke-width="0.6" />
<line x1="40.65" y1="497.22" x2="40.65" y2="495.58" stroke="#cc8070" stroke-width="0.6" />
<line x1="47.70" y1="497.22" x2="47.70" y2="495.35" stroke="#cc8070" stroke-width="0.6" />
<line x1="54.75" y1="497.22" x2="54.75" y2="496.28" stroke="#cc8070" stroke-width="0.6" />
<line x1="61.80" y1="497.22" x2="61.80" y2="501.11" stroke="#cc8070" stroke-width="0.6" />
<line x1="68.85" y1="497.22" x2="68.85" y2="500.10" stroke="#cc8070" stroke-width="0.6" />
<line x1="75.90" y1="497.22" x2="75.90" y2="497.22" stroke="#cc8070" stroke-width="0.6" />
<line x1="82.95" y1="497.22" x2="82.95" y2="493.01" stroke="#cc8070" stroke-width="0.6" />
<line x1="90.00" y1="497.22" x2="90.00" y2="494.49" stroke="#cc8070" stroke-width="0.6" />
<line x1="97.05" y1="497.22" x2="97.05" y2="497.22" stroke="#cc8070" stroke-width="0.6" />
<line x1="104.10" y1="497.22" x2="104.10" y2="500.88" stroke="#cc8070" stroke-width="0.6" />
<line x1="111.15" y1="497.22" x2="111.15" y2="504.23" stroke="#cc8070" stroke-width="0.6" />
<line x1="118.20" y1="497.22" x2="118.20" y2="500.10" stroke="#cc8070" stroke-width="0.6" />
<line x1="125.25" y1="497.22" x2="125.25" y2="503.29" stroke="#cc8070" stroke-width="0.6" />
<line x1="132.30" y1="497.22" x2="132.30" y2="490.98" stroke="#cc8070" stroke-width="0.6" />
<line x1="139.35" y1="497.22" x2="139.35" y2="496.75" stroke="#cc8070" stroke-width="0.6" />
<line x1="146.40" y1="497.22" x2="146.40" y2="498.54" stroke="#cc8070" stroke-width="0.6" />
<line x1="153.45" y1="497.22" x2="153.45" y2="497.61" stroke="#cc8070" stroke-width="0.6" />
<line x1="160.50" y1="497.22" x2="160.50" y2="494.02" stroke="#cc8070" stroke-width="0.6" />
<circle cx="19.50" cy="419.30" r="1.11" fill="#5a3224"/>
<circle cx="26.55" cy="496.05" r="1.11" fill="#5a3224"/>
<circle cx="33.60" cy="497.68" r="1.11" fill="#5a3224"/>
<circle cx="40.65" cy="495.58" r="1.11" fill="#5a3224"/>
<circle cx="47.70" cy="495.35" r="1.11" fill="#5a3224"/>
<circle cx="54.75" cy="496.28" r="1.11" fill="#5a3224"/>
<circle cx="61.80" cy="501.11" r="1.11" fill="#5a3224"/>
<circle cx="68.85" cy="500.10" r="1.11" fill="#5a3224"/>
<circle cx="75.90" cy="497.22" r="1.11" fill="#5a3224"/>
<circle cx="82.95" cy="493.01" r="1.11" fill="#5a3224"/>
<circle cx="90.00" cy="494.49" r="1.11" fill="#5a3224"/>
<circle cx="97.05" cy="497.22" r="1.11" fill="#5a3224"/>
<circle cx="104.10" cy="500.88" r="1.11" fill="#5a3224"/>
<circle cx="111.15" cy="504.23" r="1.11" fill="#5a3224"/>
<circle cx="118.20" cy="500.10" r="1.11" fill="#5a3224"/>
<circle cx="125.25" cy="503.29" r="1.11" fill="#5a3224"/>
<circle cx="132.30" cy="490.98" r="1.11" fill="#5a3224"/>
<circle cx="139.35" cy="496.75" r="1.11" fill="#5a3224"/>
<circle cx="146.40" cy="498.54" r="1.11" fill="#5a3224"/>
<circle cx="153.45" cy="497.61" r="1.11" fill="#5a3224"/>
<circle cx="160.50" cy="494.02" r="1.11" fill="#5a3224"/>
<text x="17.70" y="543.30" font-size="7.2" fill="#1e1e1e" stroke="#1e1e1e" stroke-width="0.14" font-family='"Liberation Serif", serif' textLength="133.10" lengthAdjust="spacingAndGlyphs">ACF of Standardized Residuals of MICEX</text>
<line x1="207.59" y1="424.60" x2="207.59" y2="508.80" stroke="#ececec" stroke-width="0.5" />
<line x1="222.38" y1="424.60" x2="222.38" y2="508.80" stroke="#ececec" stroke-width="0.5" />
<line x1="237.17" y1="424.60" x2="237.17" y2="508.80" stroke="#ececec" stroke-width="0.5" />
<line x1="251.96" y1="424.60" x2="251.96" y2="508.80" stroke="#ececec" stroke-width="0.5" />
<line x1="266.75" y1="424.60" x2="266.75" y2="508.80" stroke="#ececec" stroke-width="0.5" />
<line x1="281.54" y1="424.60" x2="281.54" y2="508.80" stroke="#ececec" stroke-width="0.5" />
<line x1="296.33" y1="424.60" x2="296.33" y2="508.80" stroke="#ececec" stroke-width="0.5" />
<line x1="311.12" y1="424.60" x2="311.12" y2="508.80" stroke="#ececec" stroke-width="0.5" />
<line x1="325.91" y1="424.60" x2="325.91" y2="508.80" stroke="#ececec" stroke-width="0.5" />
<line x1="192.80" y1="438.63" x2="340.70" y2="438.63" stroke="#ececec" stroke-width="0.5" />
<line x1="192.80" y1="452.67" x2="340.70" y2="452.67" stroke="#ececec" stroke-width="0.5" />
<line x1="192.80" y1="466.70" x2="340.70" y2="466.70" stroke="#ececec" stroke-width="0.5" />
<line x1="192.80" y1="480.73" x2="340.70" y2="480.73" stroke="#ececec" stroke-width="0.5" />
<line x1="192.80" y1="494.77" x2="340.70" y2="494.77" stroke="#ececec" stroke-width="0.5" />
<rect x="192.80" y="424.60" width="147.90" height="84.20" fill="none" stroke="#8c8c8c" stroke-width="0.7"/>
<line x1="192.80" y1="508.80" x2="192.80" y2="507.60" stroke="#8c8c8c" stroke-width="0.5" />
<line x1="192.80" y1="424.60" x2="192.80" y2="425.80" stroke="#8c8c8c" stroke-width="0.5" />
<text transform="translate(192.80,513.88) scale(1.0275712589073633,1)" font-size="4.13" text-anchor="middle" fill="#4a4a4a" stroke="#4a4a4a" stroke-width="0.16" font-family='"Liberation Sans", sans-serif' >0</text>
<line x1="207.59" y1="508.80" x2="207.59" y2="507.60" stroke="#8c8c8c" stroke-width="0.5" />
<line x1="207.59" y1="424.60" x2="207.59" y2="425.80" stroke="#8c8c8c" stroke-width="0.5" />
<text transform="translate(207.59,513.88) scale(1.0275712589073633,1)" font-size="4.13" text-anchor="middle" fill="#4a4a4a" stroke="#4a4a4a" stroke-width="0.16" font-family='"Liberation Sans", sans-serif' >2</text>
<line x1="222.38" y1="508.80" x2="222.38" y2="507.60" stroke="#8c8c8c" stroke-width="0.5" />
<line x1="222.38" y1="424.60" x2="222.38" y2="425.80" stroke="#8c8c8c" stroke-width="0.5" />
<text transform="translate(222.38,513.88) scale(1.0275712589073633,1)" font-size="4.13" text-anchor="middle" fill="#4a4a4a" stroke="#4a4a4a" stroke-width="0.16" font-family='"Liberation Sans", sans-serif' >4</text>
<line x1="237.17" y1="508.80" x2="237.17" y2="507.60" stroke="#8c8c8c" stroke-width="0.5" />
<line x1="237.17" y1="424.60" x2="237.17" y2="425.80" stroke="#8c8c8c" stroke-width="0.5" />
<text transform="translate(237.17,513.88) scale(1.0275712589073633,1)" font-size="4.13" text-anchor="middle" fill="#4a4a4a" stroke="#4a4a4a" stroke-width="0.16" font-family='"Liberation Sans", sans-serif' >6</text>
<line x1="251.96" y1="508.80" x2="251.96" y2="507.60" stroke="#8c8c8c" stroke-width="0.5" />
<line x1="251.96" y1="424.60" x2="251.96" y2="425.80" stroke="#8c8c8c" stroke-width="0.5" />
<text transform="translate(251.96,513.88) scale(1.0275712589073633,1)" font-size="4.13" text-anchor="middle" fill="#4a4a4a" stroke="#4a4a4a" stroke-width="0.16" font-family='"Liberation Sans", sans-serif' >8</text>
<line x1="266.75" y1="508.80" x2="266.75" y2="507.60" stroke="#8c8c8c" stroke-width="0.5" />
<line x1="266.75" y1="424.60" x2="266.75" y2="425.80" stroke="#8c8c8c" stroke-width="0.5" />
<text transform="translate(266.75,513.88) scale(1.0275712589073633,1)" font-size="4.13" text-anchor="middle" fill="#4a4a4a" stroke="#4a4a4a" stroke-width="0.16" font-family='"Liberation Sans", sans-serif' >10</text>
<line x1="281.54" y1="508.80" x2="281.54" y2="507.60" stroke="#8c8c8c" stroke-width="0.5" />
<line x1="281.54" y1="424.60" x2="281.54" y2="425.80" stroke="#8c8c8c" stroke-width="0.5" />
<text transform="translate(281.54,513.88) scale(1.0275712589073633,1)" font-size="4.13" text-anchor="middle" fill="#4a4a4a" stroke="#4a4a4a" stroke-width="0.16" font-family='"Liberation Sans", sans-serif' >12</text>
<line x1="296.33" y1="508.80" x2="296.33" y2="507.60" stroke="#8c8c8c" stroke-width="0.5" />
<line x1="296.33" y1="424.60" x2="296.33" y2="425.80" stroke="#8c8c8c" stroke-width="0.5" />
<text transform="translate(296.33,513.88) scale(1.0275712589073633,1)" font-size="4.13" text-anchor="middle" fill="#4a4a4a" stroke="#4a4a4a" stroke-width="0.16" font-family='"Liberation Sans", sans-serif' >14</text>
<line x1="311.12" y1="508.80" x2="311.12" y2="507.60" stroke="#8c8c8c" stroke-width="0.5" />
<line x1="311.12" y1="424.60" x2="311.12" y2="425.80" stroke="#8c8c8c" stroke-width="0.5" />
<text transform="translate(311.12,513.88) scale(1.0275712589073633,1)" font-size="4.13" text-anchor="middle" fill="#4a4a4a" stroke="#4a4a4a" stroke-width="0.16" font-family='"Liberation Sans", sans-serif' >16</text>
<line x1="325.91" y1="508.80" x2="325.91" y2="507.60" stroke="#8c8c8c" stroke-width="0.5" />
<line x1="325.91" y1="424.60" x2="325.91" y2="425.80" stroke="#8c8c8c" stroke-width="0.5" />
<text transform="translate(325.91,513.88) scale(1.0275712589073633,1)" font-size="4.13" text-anchor="middle" fill="#4a4a4a" stroke="#4a4a4a" stroke-width="0.16" font-family='"Liberation Sans", sans-serif' >18</text>
<line x1="340.70" y1="508.80" x2="340.70" y2="507.60" stroke="#8c8c8c" stroke-width="0.5" />
<line x1="340.70" y1="424.60" x2="340.70" y2="425.80" stroke="#8c8c8c" stroke-width="0.5" />
<text transform="translate(340.70,513.88) scale(1.0275712589073633,1)" font-size="4.13" text-anchor="middle" fill="#4a4a4a" stroke="#4a4a4a" stroke-width="0.16" font-family='"Liberation Sans", sans-serif' >20</text>
<line x1="192.80" y1="424.60" x2="194.00" y2="424.60" stroke="#8c8c8c" stroke-width="0.5" />
<line x1="340.70" y1="424.60" x2="339.50" y2="424.60" stroke="#8c8c8c" stroke-width="0.5" />
<text transform="translate(191.10,426.39) scale(1.150879809976247,1)" font-size="4.13" text-anchor="end" fill="#4a4a4a" stroke="#4a4a4a" stroke-width="0.16" font-family='"Liberation Sans", sans-serif' >1</text>
<line x1="192.80" y1="438.63" x2="194.00" y2="438.63" stroke="#8c8c8c" stroke-width="0.5" />
<line x1="340.70" y1="438.63" x2="339.50" y2="438.63" stroke="#8c8c8c" stroke-width="0.5" />
<text transform="translate(191.10,440.42) scale(1.150879809976247,1)" font-size="4.13" text-anchor="end" fill="#4a4a4a" stroke="#4a4a4a" stroke-width="0.16" font-family='"Liberation Sans", sans-serif' >0.8</text>
<line x1="192.80" y1="452.67" x2="194.00" y2="452.67" stroke="#8c8c8c" stroke-width="0.5" />
<line x1="340.70" y1="452.67" x2="339.50" y2="452.67" stroke="#8c8c8c" stroke-width="0.5" />
<text transform="translate(191.10,454.45) scale(1.150879809976247,1)" font-size="4.13" text-anchor="end" fill="#4a4a4a" stroke="#4a4a4a" stroke-width="0.16" font-family='"Liberation Sans", sans-serif' >0.6</text>
<line x1="192.80" y1="466.70" x2="194.00" y2="466.70" stroke="#8c8c8c" stroke-width="0.5" />
<line x1="340.70" y1="466.70" x2="339.50" y2="466.70" stroke="#8c8c8c" stroke-width="0.5" />
<text transform="translate(191.10,468.49) scale(1.150879809976247,1)" font-size="4.13" text-anchor="end" fill="#4a4a4a" stroke="#4a4a4a" stroke-width="0.16" font-family='"Liberation Sans", sans-serif' >0.4</text>
<line x1="192.80" y1="480.73" x2="194.00" y2="480.73" stroke="#8c8c8c" stroke-width="0.5" />
<line x1="340.70" y1="480.73" x2="339.50" y2="480.73" stroke="#8c8c8c" stroke-width="0.5" />
<text transform="translate(191.10,482.52) scale(1.150879809976247,1)" font-size="4.13" text-anchor="end" fill="#4a4a4a" stroke="#4a4a4a" stroke-width="0.16" font-family='"Liberation Sans", sans-serif' >0.2</text>
<line x1="192.80" y1="494.77" x2="194.00" y2="494.77" stroke="#8c8c8c" stroke-width="0.5" />
<line x1="340.70" y1="494.77" x2="339.50" y2="494.77" stroke="#8c8c8c" stroke-width="0.5" />
<text transform="translate(191.10,496.55) scale(1.150879809976247,1)" font-size="4.13" text-anchor="end" fill="#4a4a4a" stroke="#4a4a4a" stroke-width="0.16" font-family='"Liberation Sans", sans-serif' >0</text>
<line x1="192.80" y1="508.80" x2="194.00" y2="508.80" stroke="#8c8c8c" stroke-width="0.5" />
<line x1="340.70" y1="508.80" x2="339.50" y2="508.80" stroke="#8c8c8c" stroke-width="0.5" />
<text transform="translate(191.10,510.59) scale(1.150879809976247,1)" font-size="4.13" text-anchor="end" fill="#4a4a4a" stroke="#4a4a4a" stroke-width="0.16" font-family='"Liberation Sans", sans-serif' >-0.2</text>
<text transform="translate(181.10,466.70) rotate(-90) scale(1,0.95)" font-size="3.75" text-anchor="middle" fill="#4a4a4a" stroke="#4a4a4a" stroke-width="0.16" font-family='"Liberation Sans", sans-serif' >Sample Autocorrelation</text>
<text transform="translate(266.75,519.46) scale(1.0275712589073633,1)" font-size="4.95" text-anchor="middle" fill="#4a4a4a" stroke="#4a4a4a" stroke-width="0.16" font-family='"Liberation Sans", sans-serif' >Lag</text>
<line x1="196.50" y1="486.84" x2="340.70" y2="486.84" stroke="#9c9cd6" stroke-width="0.7654545454545454" />
<line x1="196.50" y1="502.70" x2="340.70" y2="502.70" stroke="#9c9cd6" stroke-width="0.7654545454545454" />
<line x1="192.80" y1="494.77" x2="340.70" y2="494.77" stroke="#a29c9c" stroke-width="0.8" />
<line x1="192.80" y1="494.77" x2="192.80" y2="424.60" stroke="#dca898" stroke-width="1.0" />
<line x1="200.20" y1="494.77" x2="200.20" y2="493.92" stroke="#cc8070" stroke-width="0.6" />
<line x1="207.59" y1="494.77" x2="207.59" y2="495.96" stroke="#cc8070" stroke-width="0.6" />
<line x1="214.99" y1="494.77" x2="214.99" y2="493.92" stroke="#cc8070" stroke-width="0.6" />
<line x1="222.38" y1="494.77" x2="222.38" y2="495.47" stroke="#cc8070" stroke-width="0.6" />
<line x1="229.78" y1="494.77" x2="229.78" y2="495.96" stroke="#cc8070" stroke-width="0.6" />
<line x1="237.17" y1="494.77" x2="237.17" y2="494.06" stroke="#cc8070" stroke-width="0.6" />
<line x1="244.56" y1="494.77" x2="244.56" y2="494.28" stroke="#cc8070" stroke-width="0.6" />
<line x1="251.96" y1="494.77" x2="251.96" y2="496.38" stroke="#cc8070" stroke-width="0.6" />
<line x1="259.36" y1="494.77" x2="259.36" y2="492.24" stroke="#cc8070" stroke-width="0.6" />
<line x1="266.75" y1="494.77" x2="266.75" y2="496.24" stroke="#cc8070" stroke-width="0.6" />
<line x1="274.14" y1="494.77" x2="274.14" y2="497.29" stroke="#cc8070" stroke-width="0.6" />
<line x1="281.54" y1="494.77" x2="281.54" y2="494.98" stroke="#cc8070" stroke-width="0.6" />
<line x1="288.94" y1="494.77" x2="288.94" y2="495.19" stroke="#cc8070" stroke-width="0.6" />
<line x1="296.33" y1="494.77" x2="296.33" y2="495.89" stroke="#cc8070" stroke-width="0.6" />
<line x1="303.73" y1="494.77" x2="303.73" y2="495.40" stroke="#cc8070" stroke-width="0.6" />
<line x1="311.12" y1="494.77" x2="311.12" y2="495.40" stroke="#cc8070" stroke-width="0.6" />
<line x1="318.51" y1="494.77" x2="318.51" y2="495.40" stroke="#cc8070" stroke-width="0.6" />
<line x1="325.91" y1="494.77" x2="325.91" y2="492.45" stroke="#cc8070" stroke-width="0.6" />
<line x1="333.30" y1="494.77" x2="333.30" y2="496.38" stroke="#cc8070" stroke-width="0.6" />
<line x1="340.70" y1="494.77" x2="340.70" y2="495.89" stroke="#cc8070" stroke-width="0.6" />
<circle cx="192.80" cy="424.60" r="1.05" fill="#5a3224"/>
<circle cx="200.20" cy="493.92" r="1.05" fill="#5a3224"/>
<circle cx="207.59" cy="495.96" r="1.05" fill="#5a3224"/>
<circle cx="214.99" cy="493.92" r="1.05" fill="#5a3224"/>
<circle cx="222.38" cy="495.47" r="1.05" fill="#5a3224"/>
<circle cx="229.78" cy="495.96" r="1.05" fill="#5a3224"/>
<circle cx="237.17" cy="494.06" r="1.05" fill="#5a3224"/>
<circle cx="244.56" cy="494.28" r="1.05" fill="#5a3224"/>
<circle cx="251.96" cy="496.38" r="1.05" fill="#5a3224"/>
<circle cx="259.36" cy="492.24" r="1.05" fill="#5a3224"/>
<circle cx="266.75" cy="496.24" r="1.05" fill="#5a3224"/>
<circle cx="274.14" cy="497.29" r="1.05" fill="#5a3224"/>
<circle cx="281.54" cy="494.98" r="1.05" fill="#5a3224"/>
<circle cx="288.94" cy="495.19" r="1.05" fill="#5a3224"/>
<circle cx="296.33" cy="495.89" r="1.05" fill="#5a3224"/>
<circle cx="303.73" cy="495.40" r="1.05" fill="#5a3224"/>
<circle cx="311.12" cy="495.40" r="1.05" fill="#5a3224"/>
<circle cx="318.51" cy="495.40" r="1.05" fill="#5a3224"/>
<circle cx="325.91" cy="492.45" r="1.05" fill="#5a3224"/>
<circle cx="333.30" cy="496.38" r="1.05" fill="#5a3224"/>
<circle cx="340.70" cy="495.89" r="1.05" fill="#5a3224"/>
<text x="180.30" y="543.40" font-size="7.2" fill="#1e1e1e" stroke="#1e1e1e" stroke-width="0.14" font-family='"Liberation Serif", serif' textLength="161.50" lengthAdjust="spacingAndGlyphs">ACF of Squared Standardized Residuals of MICEX</text>
<line x1="20.30" y1="240.00" x2="20.30" y2="269.00" stroke="#f8d0ee" stroke-width="0.6" />
<circle cx="20.3" cy="243.6" r="0.9" fill="#f090e0" opacity="0.8"/>
<circle cx="20.3" cy="250.2" r="0.9" fill="#f090e0" opacity="0.8"/>
</svg>
</body></html>
